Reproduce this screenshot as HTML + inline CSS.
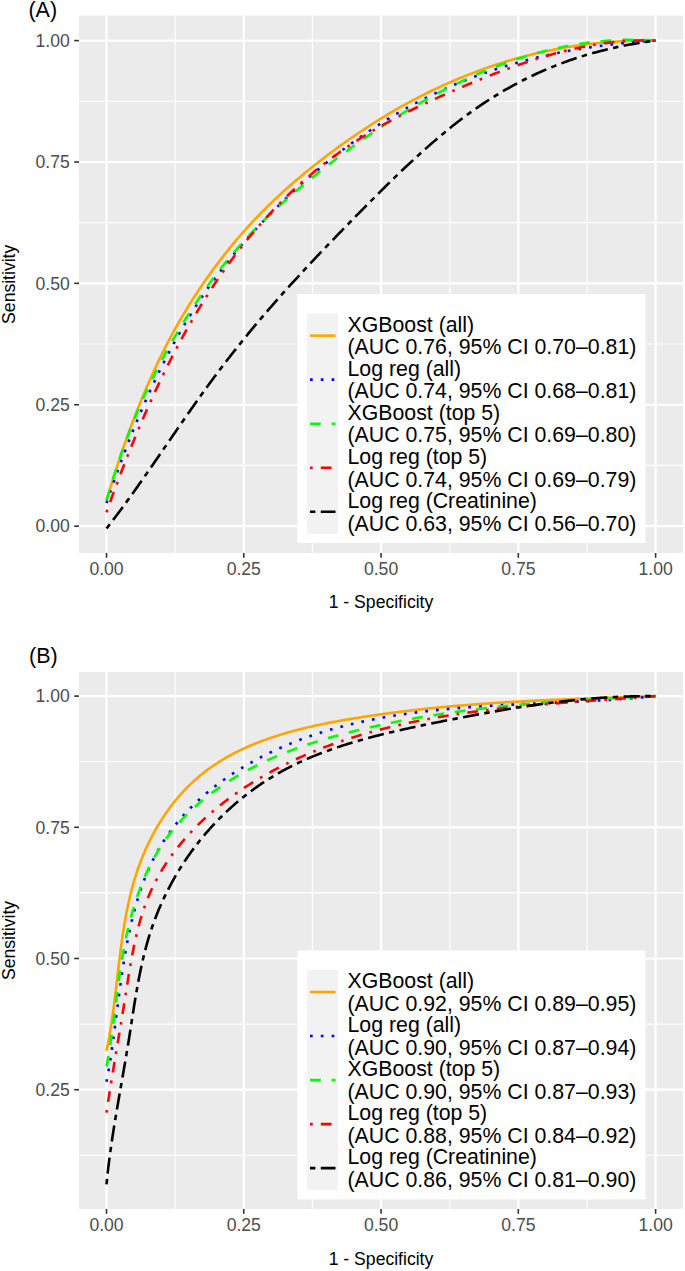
<!DOCTYPE html>
<html><head><meta charset="utf-8"><style>
html,body{margin:0;padding:0;background:#fff;}
svg{display:block;}
text{font-family:"Liberation Sans", sans-serif;}
.ax{font-size:17.6px;fill:#4D4D4D;}
.at{font-size:17.6px;fill:#000;}
.tag{font-size:21.5px;fill:#000;}
.lg{font-size:21.3px;fill:#000;}
</style></head><body>
<svg width="685" height="1271" viewBox="0 0 685 1271">
<rect width="685" height="1271" fill="#fff"/>
<rect x="79" y="15.6" width="604" height="537.40" fill="#EBEBEB"/>
<line x1="175.14" y1="15.6" x2="175.14" y2="553.0" stroke="#fff" stroke-width="1.1"/>
<line x1="312.41" y1="15.6" x2="312.41" y2="553.0" stroke="#fff" stroke-width="1.1"/>
<line x1="449.69" y1="15.6" x2="449.69" y2="553.0" stroke="#fff" stroke-width="1.1"/>
<line x1="586.96" y1="15.6" x2="586.96" y2="553.0" stroke="#fff" stroke-width="1.1"/>
<line x1="79" y1="465.41" x2="683" y2="465.41" stroke="#fff" stroke-width="1.1"/>
<line x1="79" y1="344.04" x2="683" y2="344.04" stroke="#fff" stroke-width="1.1"/>
<line x1="79" y1="222.66" x2="683" y2="222.66" stroke="#fff" stroke-width="1.1"/>
<line x1="79" y1="101.29" x2="683" y2="101.29" stroke="#fff" stroke-width="1.1"/>
<line x1="106.50" y1="15.6" x2="106.50" y2="553.0" stroke="#fff" stroke-width="2.2"/>
<line x1="243.78" y1="15.6" x2="243.78" y2="553.0" stroke="#fff" stroke-width="2.2"/>
<line x1="381.05" y1="15.6" x2="381.05" y2="553.0" stroke="#fff" stroke-width="2.2"/>
<line x1="518.33" y1="15.6" x2="518.33" y2="553.0" stroke="#fff" stroke-width="2.2"/>
<line x1="655.60" y1="15.6" x2="655.60" y2="553.0" stroke="#fff" stroke-width="2.2"/>
<line x1="79" y1="526.10" x2="683" y2="526.10" stroke="#fff" stroke-width="2.2"/>
<line x1="79" y1="404.73" x2="683" y2="404.73" stroke="#fff" stroke-width="2.2"/>
<line x1="79" y1="283.35" x2="683" y2="283.35" stroke="#fff" stroke-width="2.2"/>
<line x1="79" y1="161.98" x2="683" y2="161.98" stroke="#fff" stroke-width="2.2"/>
<line x1="79" y1="40.60" x2="683" y2="40.60" stroke="#fff" stroke-width="2.2"/>
<path d="M106.50,500.32 L107.33,497.55 L108.16,494.80 L108.98,492.07 L109.81,489.35 L110.64,486.66 L111.47,483.99 L112.29,481.34 L113.12,478.71 L113.95,476.10 L114.78,473.51 L115.61,470.94 L116.43,468.38 L117.26,465.85 L118.09,463.33 L118.92,460.84 L119.74,458.36 L120.57,455.90 L121.40,453.46 L122.23,451.04 L123.06,448.64 L123.88,446.25 L124.71,443.89 L125.54,441.54 L126.37,439.21 L127.19,436.89 L128.02,434.60 L128.85,432.32 L129.68,430.06 L130.51,427.81 L131.33,425.59 L132.16,423.38 L132.99,421.18 L133.82,419.01 L134.64,416.85 L135.47,414.70 L136.30,412.58 L137.13,410.47 L137.96,408.37 L138.78,406.29 L139.61,404.23 L140.44,402.18 L141.27,400.15 L142.09,398.13 L142.92,396.13 L143.75,394.14 L144.58,392.17 L145.41,390.21 L146.23,388.27 L147.06,386.35 L147.89,384.43 L148.72,382.54 L149.55,380.65 L150.37,378.78 L151.20,376.93 L152.03,375.09 L152.86,373.26 L153.68,371.44 L154.51,369.64 L155.34,367.86 L156.17,366.08 L157.00,364.33 L157.82,362.58 L158.65,360.84 L159.48,359.12 L160.31,357.42 L161.13,355.72 L161.96,354.04 L162.79,352.37 L163.62,350.71 L164.45,349.06 L165.27,347.43 L166.10,345.81 L166.93,344.20 L167.76,342.60 L168.58,341.02 L169.41,339.44 L170.24,337.88 L171.07,336.33 L171.90,334.78 L172.72,333.25 L173.55,331.74 L174.38,330.23 L175.21,328.73 L176.03,327.24 L176.86,325.77 L177.69,324.30 L178.52,322.84 L179.35,321.40 L180.17,319.96 L181.00,318.54 L181.83,317.12 L182.66,315.71 L183.48,314.32 L184.31,312.93 L185.14,311.55 L185.97,310.18 L186.80,308.82 L187.62,307.47 L188.45,306.13 L189.28,304.79 L190.11,303.47 L190.93,302.15 L191.76,300.84 L192.59,299.54 L193.42,298.25 L194.25,296.96 L195.07,295.69 L195.90,294.42 L196.73,293.16 L197.56,291.90 L198.38,290.66 L199.21,289.42 L200.04,288.18 L200.87,286.96 L201.70,285.74 L202.52,284.53 L203.35,283.32 L204.18,282.13 L205.01,280.93 L205.83,279.75 L206.66,278.57 L207.49,277.40 L208.32,276.23 L209.15,275.07 L209.97,273.91 L210.80,272.76 L211.63,271.62 L212.46,270.49 L213.28,269.35 L214.11,268.23 L214.94,267.11 L215.77,266.00 L216.60,264.89 L217.42,263.79 L218.25,262.69 L219.08,261.60 L219.91,260.51 L220.73,259.43 L221.56,258.36 L222.39,257.29 L223.22,256.23 L224.05,255.17 L224.87,254.12 L225.70,253.07 L226.53,252.03 L227.36,251.00 L228.18,249.97 L229.01,248.94 L229.84,247.92 L230.67,246.91 L231.50,245.90 L232.32,244.89 L233.15,243.89 L233.98,242.90 L234.81,241.91 L235.64,240.93 L236.46,239.95 L237.29,238.97 L238.12,238.01 L238.95,237.04 L239.77,236.08 L240.60,235.13 L241.43,234.18 L242.26,233.23 L243.09,232.29 L243.91,231.36 L244.74,230.42 L245.57,229.50 L246.40,228.58 L247.22,227.66 L248.05,226.75 L248.88,225.84 L249.71,224.93 L250.54,224.03 L251.36,223.14 L252.19,222.25 L253.02,221.36 L253.85,220.48 L254.67,219.60 L255.50,218.73 L256.33,217.86 L257.16,216.99 L257.99,216.13 L258.81,215.28 L259.64,214.42 L260.47,213.57 L261.30,212.73 L262.12,211.89 L262.95,211.05 L263.78,210.22 L264.61,209.39 L265.44,208.56 L266.26,207.74 L267.09,206.92 L267.92,206.11 L268.75,205.30 L269.57,204.49 L270.40,203.69 L271.23,202.89 L273.81,200.42 L276.39,197.98 L278.97,195.58 L281.55,193.21 L284.13,190.87 L286.71,188.56 L289.29,186.27 L291.87,184.02 L294.45,181.79 L297.03,179.59 L299.61,177.41 L302.19,175.25 L304.77,173.12 L307.35,171.01 L309.92,168.92 L312.50,166.85 L315.08,164.80 L317.66,162.76 L320.24,160.75 L322.82,158.75 L325.40,156.77 L327.98,154.81 L330.56,152.87 L333.14,150.95 L335.72,149.04 L338.30,147.16 L340.88,145.29 L343.46,143.44 L346.04,141.61 L348.62,139.79 L351.20,138.00 L353.78,136.22 L356.36,134.46 L358.94,132.72 L361.52,130.99 L364.10,129.29 L366.68,127.60 L369.26,125.93 L371.84,124.27 L374.42,122.64 L377.00,121.02 L379.58,119.42 L382.16,117.83 L384.74,116.27 L387.31,114.72 L389.89,113.19 L392.47,111.68 L395.05,110.18 L397.63,108.70 L400.21,107.24 L402.79,105.79 L405.37,104.37 L407.95,102.96 L410.53,101.56 L413.11,100.19 L415.69,98.83 L418.27,97.48 L420.85,96.16 L423.43,94.85 L426.01,93.56 L428.59,92.28 L431.17,91.02 L433.75,89.78 L436.33,88.55 L438.91,87.34 L441.49,86.15 L444.07,84.98 L446.65,83.82 L449.23,82.67 L451.81,81.55 L454.39,80.44 L456.97,79.34 L459.55,78.26 L462.13,77.20 L464.70,76.16 L467.28,75.13 L469.86,74.11 L472.44,73.12 L475.02,72.14 L477.60,71.17 L480.18,70.22 L482.76,69.29 L485.34,68.37 L487.92,67.47 L490.50,66.58 L493.08,65.71 L495.66,64.85 L498.24,64.01 L500.82,63.19 L503.40,62.38 L505.98,61.59 L508.56,60.81 L511.14,60.05 L513.72,59.30 L516.30,58.57 L518.88,57.85 L521.46,57.15 L524.04,56.47 L526.62,55.80 L529.20,55.14 L531.78,54.50 L534.36,53.87 L536.94,53.26 L539.52,52.67 L542.09,52.09 L544.67,51.52 L547.25,50.97 L549.83,50.43 L552.41,49.91 L554.99,49.40 L557.57,48.91 L560.15,48.43 L562.73,47.97 L565.31,47.52 L567.89,47.08 L570.47,46.66 L573.05,46.26 L575.63,45.87 L578.21,45.49 L580.79,45.13 L583.37,44.78 L585.95,44.44 L588.53,44.12 L591.11,43.82 L593.69,43.52 L596.27,43.24 L598.85,42.98 L601.43,42.73 L604.01,42.49 L606.59,42.27 L609.17,42.06 L611.75,41.86 L614.33,41.68 L616.91,41.51 L619.48,41.36 L622.06,41.22 L624.64,41.09 L627.22,40.98 L629.80,40.88 L632.38,40.79 L634.96,40.72 L637.54,40.65 L640.12,40.61 L642.70,40.57 L645.28,40.55 L647.86,40.54 L650.44,40.55 L653.02,40.57 L655.60,40.60" fill="none" stroke="#FFA500" stroke-width="2.6" stroke-linejoin="round"/>
<path d="M106.50,503.05 L107.33,500.57 L108.16,498.11 L108.98,495.67 L109.81,493.24 L110.64,490.82 L111.47,488.42 L112.29,486.03 L113.12,483.66 L113.95,481.30 L114.78,478.95 L115.61,476.62 L116.43,474.30 L117.26,471.99 L118.09,469.70 L118.92,467.42 L119.74,465.16 L120.57,462.91 L121.40,460.67 L122.23,458.44 L123.06,456.23 L123.88,454.03 L124.71,451.85 L125.54,449.67 L126.37,447.52 L127.19,445.37 L128.02,443.24 L128.85,441.11 L129.68,439.01 L130.51,436.91 L131.33,434.83 L132.16,432.76 L132.99,430.70 L133.82,428.65 L134.64,426.62 L135.47,424.60 L136.30,422.59 L137.13,420.60 L137.96,418.61 L138.78,416.64 L139.61,414.68 L140.44,412.73 L141.27,410.80 L142.09,408.87 L142.92,406.96 L143.75,405.06 L144.58,403.17 L145.41,401.29 L146.23,399.42 L147.06,397.57 L147.89,395.72 L148.72,393.89 L149.55,392.07 L150.37,390.26 L151.20,388.46 L152.03,386.67 L152.86,384.90 L153.68,383.13 L154.51,381.37 L155.34,379.63 L156.17,377.90 L157.00,376.17 L157.82,374.46 L158.65,372.76 L159.48,371.07 L160.31,369.39 L161.13,367.72 L161.96,366.06 L162.79,364.41 L163.62,362.77 L164.45,361.14 L165.27,359.52 L166.10,357.91 L166.93,356.31 L167.76,354.72 L168.58,353.14 L169.41,351.57 L170.24,350.01 L171.07,348.46 L171.90,346.92 L172.72,345.38 L173.55,343.86 L174.38,342.35 L175.21,340.85 L176.03,339.35 L176.86,337.87 L177.69,336.39 L178.52,334.92 L179.35,333.46 L180.17,332.02 L181.00,330.57 L181.83,329.14 L182.66,327.72 L183.48,326.31 L184.31,324.90 L185.14,323.50 L185.97,322.12 L186.80,320.74 L187.62,319.36 L188.45,318.00 L189.28,316.65 L190.11,315.30 L190.93,313.96 L191.76,312.63 L192.59,311.31 L193.42,309.99 L194.25,308.69 L195.07,307.39 L195.90,306.10 L196.73,304.81 L197.56,303.54 L198.38,302.27 L199.21,301.01 L200.04,299.75 L200.87,298.51 L201.70,297.27 L202.52,296.04 L203.35,294.81 L204.18,293.60 L205.01,292.39 L205.83,291.18 L206.66,289.99 L207.49,288.80 L208.32,287.62 L209.15,286.44 L209.97,285.27 L210.80,284.11 L211.63,282.95 L212.46,281.81 L213.28,280.66 L214.11,279.53 L214.94,278.40 L215.77,277.27 L216.60,276.16 L217.42,275.04 L218.25,273.94 L219.08,272.84 L219.91,271.75 L220.73,270.66 L221.56,269.58 L222.39,268.50 L223.22,267.43 L224.05,266.37 L224.87,265.31 L225.70,264.25 L226.53,263.21 L227.36,262.16 L228.18,261.13 L229.01,260.10 L229.84,259.07 L230.67,258.05 L231.50,257.03 L232.32,256.02 L233.15,255.01 L233.98,254.01 L234.81,253.01 L235.64,252.02 L236.46,251.03 L237.29,250.05 L238.12,249.07 L238.95,248.10 L239.77,247.13 L240.60,246.17 L241.43,245.21 L242.26,244.25 L243.09,243.30 L243.91,242.35 L244.74,241.41 L245.57,240.47 L246.40,239.53 L247.22,238.60 L248.05,237.67 L248.88,236.75 L249.71,235.83 L250.54,234.91 L251.36,234.00 L252.19,233.09 L253.02,232.18 L253.85,231.28 L254.67,230.38 L255.50,229.49 L256.33,228.59 L257.16,227.70 L257.99,226.82 L258.81,225.93 L259.64,225.05 L260.47,224.17 L261.30,223.30 L262.12,222.43 L262.95,221.56 L263.78,220.69 L264.61,219.83 L265.44,218.97 L266.26,218.11 L267.09,217.25 L267.92,216.40 L268.75,215.55 L269.57,214.70 L270.40,213.86 L271.23,213.01 L273.81,210.41 L276.39,207.82 L278.97,205.27 L281.55,202.74 L284.13,200.23 L286.71,197.75 L289.29,195.29 L291.87,192.86 L294.45,190.46 L297.03,188.08 L299.61,185.72 L302.19,183.39 L304.77,181.08 L307.35,178.80 L309.92,176.54 L312.50,174.31 L315.08,172.10 L317.66,169.91 L320.24,167.75 L322.82,165.61 L325.40,163.49 L327.98,161.40 L330.56,159.33 L333.14,157.28 L335.72,155.26 L338.30,153.26 L340.88,151.28 L343.46,149.32 L346.04,147.39 L348.62,145.48 L351.20,143.59 L353.78,141.72 L356.36,139.88 L358.94,138.06 L361.52,136.25 L364.10,134.47 L366.68,132.71 L369.26,130.98 L371.84,129.26 L374.42,127.56 L377.00,125.89 L379.58,124.24 L382.16,122.60 L384.74,120.99 L387.31,119.40 L389.89,117.82 L392.47,116.27 L395.05,114.74 L397.63,113.23 L400.21,111.74 L402.79,110.26 L405.37,108.81 L407.95,107.38 L410.53,105.96 L413.11,104.56 L415.69,103.19 L418.27,101.83 L420.85,100.49 L423.43,99.17 L426.01,97.87 L428.59,96.58 L431.17,95.32 L433.75,94.07 L436.33,92.84 L438.91,91.63 L441.49,90.43 L444.07,89.26 L446.65,88.10 L449.23,86.96 L451.81,85.83 L454.39,84.73 L456.97,83.64 L459.55,82.56 L462.13,81.50 L464.70,80.46 L467.28,79.44 L469.86,78.43 L472.44,77.44 L475.02,76.47 L477.60,75.51 L480.18,74.56 L482.76,73.64 L485.34,72.72 L487.92,71.83 L490.50,70.94 L493.08,70.08 L495.66,69.23 L498.24,68.39 L500.82,67.57 L503.40,66.76 L505.98,65.97 L508.56,65.19 L511.14,64.43 L513.72,63.68 L516.30,62.94 L518.88,62.22 L521.46,61.51 L524.04,60.82 L526.62,60.14 L529.20,59.47 L531.78,58.82 L534.36,58.18 L536.94,57.55 L539.52,56.94 L542.09,56.33 L544.67,55.74 L547.25,55.17 L549.83,54.60 L552.41,54.05 L554.99,53.51 L557.57,52.98 L560.15,52.47 L562.73,51.96 L565.31,51.47 L567.89,50.99 L570.47,50.52 L573.05,50.06 L575.63,49.61 L578.21,49.18 L580.79,48.75 L583.37,48.34 L585.95,47.93 L588.53,47.54 L591.11,47.16 L593.69,46.78 L596.27,46.42 L598.85,46.07 L601.43,45.73 L604.01,45.39 L606.59,45.07 L609.17,44.75 L611.75,44.45 L614.33,44.15 L616.91,43.87 L619.48,43.59 L622.06,43.32 L624.64,43.06 L627.22,42.81 L629.80,42.57 L632.38,42.34 L634.96,42.11 L637.54,41.89 L640.12,41.68 L642.70,41.48 L645.28,41.28 L647.86,41.10 L650.44,40.92 L653.02,40.75 L655.60,40.58" fill="none" stroke="#0000FF" stroke-width="2.6" stroke-linejoin="round" stroke-dasharray="2.70 8.10"/>
<path d="M106.50,500.35 L107.33,497.53 L108.16,494.74 L108.98,491.97 L109.81,489.23 L110.64,486.52 L111.47,483.84 L112.29,481.18 L113.12,478.55 L113.95,475.94 L114.78,473.36 L115.61,470.80 L116.43,468.27 L117.26,465.76 L118.09,463.28 L118.92,460.82 L119.74,458.39 L120.57,455.98 L121.40,453.59 L122.23,451.23 L123.06,448.89 L123.88,446.57 L124.71,444.28 L125.54,442.00 L126.37,439.75 L127.19,437.52 L128.02,435.31 L128.85,433.12 L129.68,430.96 L130.51,428.81 L131.33,426.69 L132.16,424.58 L132.99,422.49 L133.82,420.43 L134.64,418.38 L135.47,416.35 L136.30,414.34 L137.13,412.35 L137.96,410.38 L138.78,408.42 L139.61,406.48 L140.44,404.56 L141.27,402.66 L142.09,400.77 L142.92,398.90 L143.75,397.05 L144.58,395.21 L145.41,393.39 L146.23,391.58 L147.06,389.79 L147.89,388.02 L148.72,386.25 L149.55,384.51 L150.37,382.78 L151.20,381.06 L152.03,379.35 L152.86,377.66 L153.68,375.98 L154.51,374.32 L155.34,372.66 L156.17,371.02 L157.00,369.39 L157.82,367.78 L158.65,366.17 L159.48,364.58 L160.31,363.00 L161.13,361.42 L161.96,359.86 L162.79,358.31 L163.62,356.77 L164.45,355.24 L165.27,353.72 L166.10,352.20 L166.93,350.70 L167.76,349.21 L168.58,347.72 L169.41,346.24 L170.24,344.77 L171.07,343.31 L171.90,341.85 L172.72,340.41 L173.55,338.97 L174.38,337.54 L175.21,336.11 L176.03,334.70 L176.86,333.29 L177.69,331.89 L178.52,330.49 L179.35,329.11 L180.17,327.73 L181.00,326.36 L181.83,325.00 L182.66,323.64 L183.48,322.29 L184.31,320.95 L185.14,319.62 L185.97,318.29 L186.80,316.97 L187.62,315.66 L188.45,314.35 L189.28,313.06 L190.11,311.77 L190.93,310.48 L191.76,309.20 L192.59,307.93 L193.42,306.67 L194.25,305.41 L195.07,304.17 L195.90,302.92 L196.73,301.69 L197.56,300.46 L198.38,299.24 L199.21,298.02 L200.04,296.81 L200.87,295.61 L201.70,294.41 L202.52,293.22 L203.35,292.04 L204.18,290.86 L205.01,289.69 L205.83,288.53 L206.66,287.37 L207.49,286.22 L208.32,285.07 L209.15,283.93 L209.97,282.80 L210.80,281.67 L211.63,280.55 L212.46,279.44 L213.28,278.33 L214.11,277.22 L214.94,276.13 L215.77,275.03 L216.60,273.95 L217.42,272.87 L218.25,271.80 L219.08,270.73 L219.91,269.66 L220.73,268.61 L221.56,267.56 L222.39,266.51 L223.22,265.47 L224.05,264.44 L224.87,263.41 L225.70,262.38 L226.53,261.36 L227.36,260.35 L228.18,259.34 L229.01,258.34 L229.84,257.34 L230.67,256.35 L231.50,255.36 L232.32,254.38 L233.15,253.40 L233.98,252.43 L234.81,251.47 L235.64,250.50 L236.46,249.55 L237.29,248.59 L238.12,247.65 L238.95,246.70 L239.77,245.77 L240.60,244.83 L241.43,243.91 L242.26,242.98 L243.09,242.06 L243.91,241.15 L244.74,240.24 L245.57,239.33 L246.40,238.43 L247.22,237.53 L248.05,236.64 L248.88,235.75 L249.71,234.87 L250.54,233.99 L251.36,233.12 L252.19,232.25 L253.02,231.38 L253.85,230.52 L254.67,229.66 L255.50,228.80 L256.33,227.95 L257.16,227.11 L257.99,226.26 L258.81,225.42 L259.64,224.59 L260.47,223.76 L261.30,222.93 L262.12,222.11 L262.95,221.29 L263.78,220.47 L264.61,219.66 L265.44,218.85 L266.26,218.04 L267.09,217.24 L267.92,216.44 L268.75,215.65 L269.57,214.86 L270.40,214.07 L271.23,213.28 L273.81,210.86 L276.39,208.46 L278.97,206.09 L281.55,203.76 L284.13,201.45 L286.71,199.16 L289.29,196.90 L291.87,194.67 L294.45,192.45 L297.03,190.26 L299.61,188.09 L302.19,185.94 L304.77,183.80 L307.35,181.69 L309.92,179.58 L312.50,177.50 L315.08,175.42 L317.66,173.36 L320.24,171.32 L322.82,169.28 L325.40,167.26 L327.98,165.26 L330.56,163.26 L333.14,161.28 L335.72,159.32 L338.30,157.37 L340.88,155.43 L343.46,153.51 L346.04,151.60 L348.62,149.70 L351.20,147.82 L353.78,145.95 L356.36,144.10 L358.94,142.26 L361.52,140.44 L364.10,138.63 L366.68,136.83 L369.26,135.05 L371.84,133.29 L374.42,131.54 L377.00,129.80 L379.58,128.08 L382.16,126.37 L384.74,124.68 L387.31,123.00 L389.89,121.34 L392.47,119.69 L395.05,118.06 L397.63,116.44 L400.21,114.84 L402.79,113.25 L405.37,111.68 L407.95,110.13 L410.53,108.58 L413.11,107.06 L415.69,105.55 L418.27,104.06 L420.85,102.58 L423.43,101.11 L426.01,99.67 L428.59,98.24 L431.17,96.82 L433.75,95.42 L436.33,94.04 L438.91,92.67 L441.49,91.32 L444.07,89.98 L446.65,88.66 L449.23,87.36 L451.81,86.07 L454.39,84.80 L456.97,83.55 L459.55,82.31 L462.13,81.09 L464.70,79.89 L467.28,78.70 L469.86,77.53 L472.44,76.37 L475.02,75.24 L477.60,74.12 L480.18,73.01 L482.76,71.92 L485.34,70.86 L487.92,69.80 L490.50,68.77 L493.08,67.75 L495.66,66.75 L498.24,65.76 L500.82,64.80 L503.40,63.85 L505.98,62.91 L508.56,62.00 L511.14,61.10 L513.72,60.22 L516.30,59.36 L518.88,58.52 L521.46,57.69 L524.04,56.89 L526.62,56.10 L529.20,55.32 L531.78,54.57 L534.36,53.83 L536.94,53.11 L539.52,52.41 L542.09,51.73 L544.67,51.07 L547.25,50.42 L549.83,49.80 L552.41,49.19 L554.99,48.60 L557.57,48.03 L560.15,47.47 L562.73,46.94 L565.31,46.43 L567.89,45.93 L570.47,45.45 L573.05,44.99 L575.63,44.55 L578.21,44.13 L580.79,43.73 L583.37,43.35 L585.95,42.98 L588.53,42.64 L591.11,42.31 L593.69,42.01 L596.27,41.72 L598.85,41.46 L601.43,41.21 L604.01,40.98 L606.59,40.77 L609.17,40.58 L611.75,40.41 L614.33,40.27 L616.91,40.14 L619.48,40.03 L622.06,39.94 L624.64,39.87 L627.22,39.82 L629.80,39.79 L632.38,39.78 L634.96,39.79 L637.54,39.82 L640.12,39.87 L642.70,39.95 L645.28,40.04 L647.86,40.15 L650.44,40.28 L653.02,40.44 L655.60,40.61" fill="none" stroke="#00FF00" stroke-width="2.6" stroke-linejoin="round" stroke-dasharray="10.80 10.80"/>
<path d="M106.50,512.35 L107.33,510.00 L108.16,507.67 L108.98,505.35 L109.81,503.04 L110.64,500.73 L111.47,498.44 L112.29,496.16 L113.12,493.89 L113.95,491.63 L114.78,489.38 L115.61,487.14 L116.43,484.91 L117.26,482.69 L118.09,480.49 L118.92,478.29 L119.74,476.10 L120.57,473.92 L121.40,471.75 L122.23,469.59 L123.06,467.45 L123.88,465.31 L124.71,463.18 L125.54,461.06 L126.37,458.95 L127.19,456.86 L128.02,454.77 L128.85,452.69 L129.68,450.62 L130.51,448.56 L131.33,446.51 L132.16,444.47 L132.99,442.44 L133.82,440.42 L134.64,438.41 L135.47,436.41 L136.30,434.41 L137.13,432.43 L137.96,430.46 L138.78,428.49 L139.61,426.54 L140.44,424.59 L141.27,422.66 L142.09,420.73 L142.92,418.81 L143.75,416.90 L144.58,415.01 L145.41,413.12 L146.23,411.23 L147.06,409.36 L147.89,407.50 L148.72,405.65 L149.55,403.80 L150.37,401.96 L151.20,400.14 L152.03,398.32 L152.86,396.51 L153.68,394.71 L154.51,392.92 L155.34,391.13 L156.17,389.36 L157.00,387.59 L157.82,385.84 L158.65,384.09 L159.48,382.35 L160.31,380.62 L161.13,378.89 L161.96,377.18 L162.79,375.47 L163.62,373.78 L164.45,372.09 L165.27,370.41 L166.10,368.73 L166.93,367.07 L167.76,365.41 L168.58,363.77 L169.41,362.13 L170.24,360.49 L171.07,358.87 L171.90,357.25 L172.72,355.65 L173.55,354.05 L174.38,352.46 L175.21,350.87 L176.03,349.30 L176.86,347.73 L177.69,346.17 L178.52,344.62 L179.35,343.07 L180.17,341.54 L181.00,340.01 L181.83,338.49 L182.66,336.97 L183.48,335.47 L184.31,333.97 L185.14,332.48 L185.97,331.00 L186.80,329.52 L187.62,328.05 L188.45,326.59 L189.28,325.14 L190.11,323.69 L190.93,322.25 L191.76,320.82 L192.59,319.40 L193.42,317.98 L194.25,316.57 L195.07,315.17 L195.90,313.77 L196.73,312.38 L197.56,311.00 L198.38,309.62 L199.21,308.26 L200.04,306.90 L200.87,305.54 L201.70,304.20 L202.52,302.86 L203.35,301.52 L204.18,300.20 L205.01,298.88 L205.83,297.56 L206.66,296.26 L207.49,294.96 L208.32,293.67 L209.15,292.38 L209.97,291.10 L210.80,289.83 L211.63,288.56 L212.46,287.30 L213.28,286.04 L214.11,284.80 L214.94,283.56 L215.77,282.32 L216.60,281.09 L217.42,279.87 L218.25,278.65 L219.08,277.44 L219.91,276.24 L220.73,275.04 L221.56,273.85 L222.39,272.67 L223.22,271.49 L224.05,270.31 L224.87,269.15 L225.70,267.98 L226.53,266.83 L227.36,265.68 L228.18,264.54 L229.01,263.40 L229.84,262.26 L230.67,261.14 L231.50,260.02 L232.32,258.90 L233.15,257.79 L233.98,256.69 L234.81,255.59 L235.64,254.50 L236.46,253.41 L237.29,252.33 L238.12,251.25 L238.95,250.18 L239.77,249.11 L240.60,248.05 L241.43,247.00 L242.26,245.95 L243.09,244.90 L243.91,243.86 L244.74,242.83 L245.57,241.80 L246.40,240.78 L247.22,239.76 L248.05,238.74 L248.88,237.74 L249.71,236.73 L250.54,235.73 L251.36,234.74 L252.19,233.75 L253.02,232.76 L253.85,231.79 L254.67,230.81 L255.50,229.84 L256.33,228.88 L257.16,227.91 L257.99,226.96 L258.81,226.01 L259.64,225.06 L260.47,224.12 L261.30,223.18 L262.12,222.25 L262.95,221.32 L263.78,220.39 L264.61,219.47 L265.44,218.56 L266.26,217.65 L267.09,216.74 L267.92,215.84 L268.75,214.94 L269.57,214.05 L270.40,213.16 L271.23,212.27 L273.81,209.54 L276.39,206.85 L278.97,204.20 L281.55,201.59 L284.13,199.02 L286.71,196.49 L289.29,194.00 L291.87,191.54 L294.45,189.12 L297.03,186.74 L299.61,184.40 L302.19,182.09 L304.77,179.82 L307.35,177.58 L309.92,175.37 L312.50,173.20 L315.08,171.06 L317.66,168.96 L320.24,166.89 L322.82,164.84 L325.40,162.83 L327.98,160.85 L330.56,158.90 L333.14,156.98 L335.72,155.09 L338.30,153.23 L340.88,151.39 L343.46,149.58 L346.04,147.80 L348.62,146.05 L351.20,144.32 L353.78,142.62 L356.36,140.94 L358.94,139.28 L361.52,137.65 L364.10,136.05 L366.68,134.46 L369.26,132.90 L371.84,131.36 L374.42,129.84 L377.00,128.34 L379.58,126.86 L382.16,125.40 L384.74,123.96 L387.31,122.54 L389.89,121.13 L392.47,119.75 L395.05,118.38 L397.63,117.02 L400.21,115.69 L402.79,114.36 L405.37,113.06 L407.95,111.76 L410.53,110.48 L413.11,109.22 L415.69,107.97 L418.27,106.72 L420.85,105.50 L423.43,104.28 L426.01,103.07 L428.59,101.87 L431.17,100.69 L433.75,99.51 L436.33,98.34 L438.91,97.18 L441.49,96.02 L444.07,94.87 L446.65,93.73 L449.23,92.60 L451.81,91.47 L454.39,90.35 L456.97,89.23 L459.55,88.12 L462.13,87.01 L464.70,85.91 L467.28,84.82 L469.86,83.73 L472.44,82.66 L475.02,81.59 L477.60,80.52 L480.18,79.47 L482.76,78.42 L485.34,77.39 L487.92,76.36 L490.50,75.34 L493.08,74.33 L495.66,73.33 L498.24,72.34 L500.82,71.36 L503.40,70.39 L505.98,69.43 L508.56,68.48 L511.14,67.54 L513.72,66.61 L516.30,65.70 L518.88,64.80 L521.46,63.91 L524.04,63.03 L526.62,62.16 L529.20,61.31 L531.78,60.47 L534.36,59.64 L536.94,58.83 L539.52,58.03 L542.09,57.25 L544.67,56.48 L547.25,55.72 L549.83,54.98 L552.41,54.26 L554.99,53.55 L557.57,52.85 L560.15,52.18 L562.73,51.51 L565.31,50.87 L567.89,50.24 L570.47,49.63 L573.05,49.03 L575.63,48.45 L578.21,47.90 L580.79,47.35 L583.37,46.83 L585.95,46.32 L588.53,45.84 L591.11,45.37 L593.69,44.92 L596.27,44.49 L598.85,44.09 L601.43,43.70 L604.01,43.33 L606.59,42.98 L609.17,42.65 L611.75,42.35 L614.33,42.06 L616.91,41.80 L619.48,41.56 L622.06,41.34 L624.64,41.14 L627.22,40.96 L629.80,40.81 L632.38,40.68 L634.96,40.58 L637.54,40.49 L640.12,40.43 L642.70,40.40 L645.28,40.39 L647.86,40.40 L650.44,40.44 L653.02,40.51 L655.60,40.59" fill="none" stroke="#FF0000" stroke-width="2.6" stroke-linejoin="round" stroke-dasharray="2.70 8.10 10.80 8.10"/>
<path d="M106.50,528.56 L107.33,527.50 L108.16,526.43 L108.98,525.36 L109.81,524.29 L110.64,523.22 L111.47,522.14 L112.29,521.06 L113.12,519.97 L113.95,518.88 L114.78,517.79 L115.61,516.69 L116.43,515.59 L117.26,514.48 L118.09,513.38 L118.92,512.27 L119.74,511.15 L120.57,510.04 L121.40,508.92 L122.23,507.79 L123.06,506.67 L123.88,505.54 L124.71,504.41 L125.54,503.27 L126.37,502.14 L127.19,501.00 L128.02,499.86 L128.85,498.71 L129.68,497.56 L130.51,496.41 L131.33,495.26 L132.16,494.11 L132.99,492.95 L133.82,491.79 L134.64,490.63 L135.47,489.47 L136.30,488.30 L137.13,487.13 L137.96,485.96 L138.78,484.79 L139.61,483.62 L140.44,482.44 L141.27,481.27 L142.09,480.09 L142.92,478.91 L143.75,477.73 L144.58,476.54 L145.41,475.36 L146.23,474.17 L147.06,472.98 L147.89,471.79 L148.72,470.60 L149.55,469.41 L150.37,468.22 L151.20,467.03 L152.03,465.83 L152.86,464.64 L153.68,463.44 L154.51,462.24 L155.34,461.04 L156.17,459.85 L157.00,458.65 L157.82,457.45 L158.65,456.24 L159.48,455.04 L160.31,453.84 L161.13,452.64 L161.96,451.44 L162.79,450.23 L163.62,449.03 L164.45,447.83 L165.27,446.62 L166.10,445.42 L166.93,444.22 L167.76,443.01 L168.58,441.81 L169.41,440.60 L170.24,439.40 L171.07,438.20 L171.90,437.00 L172.72,435.79 L173.55,434.59 L174.38,433.39 L175.21,432.19 L176.03,430.99 L176.86,429.79 L177.69,428.59 L178.52,427.39 L179.35,426.19 L180.17,425.00 L181.00,423.80 L181.83,422.60 L182.66,421.41 L183.48,420.22 L184.31,419.03 L185.14,417.84 L185.97,416.65 L186.80,415.46 L187.62,414.27 L188.45,413.09 L189.28,411.90 L190.11,410.72 L190.93,409.54 L191.76,408.36 L192.59,407.18 L193.42,406.01 L194.25,404.83 L195.07,403.66 L195.90,402.49 L196.73,401.32 L197.56,400.15 L198.38,398.99 L199.21,397.83 L200.04,396.67 L200.87,395.51 L201.70,394.35 L202.52,393.20 L203.35,392.05 L204.18,390.90 L205.01,389.76 L205.83,388.61 L206.66,387.47 L207.49,386.33 L208.32,385.20 L209.15,384.07 L209.97,382.94 L210.80,381.81 L211.63,380.69 L212.46,379.57 L213.28,378.45 L214.11,377.33 L214.94,376.22 L215.77,375.11 L216.60,374.00 L217.42,372.90 L218.25,371.80 L219.08,370.70 L219.91,369.61 L220.73,368.52 L221.56,367.43 L222.39,366.34 L223.22,365.26 L224.05,364.17 L224.87,363.10 L225.70,362.02 L226.53,360.95 L227.36,359.88 L228.18,358.81 L229.01,357.74 L229.84,356.68 L230.67,355.62 L231.50,354.56 L232.32,353.51 L233.15,352.46 L233.98,351.41 L234.81,350.36 L235.64,349.32 L236.46,348.27 L237.29,347.23 L238.12,346.20 L238.95,345.16 L239.77,344.13 L240.60,343.10 L241.43,342.07 L242.26,341.05 L243.09,340.03 L243.91,339.00 L244.74,337.99 L245.57,336.97 L246.40,335.96 L247.22,334.95 L248.05,333.94 L248.88,332.93 L249.71,331.93 L250.54,330.93 L251.36,329.93 L252.19,328.93 L253.02,327.93 L253.85,326.94 L254.67,325.95 L255.50,324.96 L256.33,323.97 L257.16,322.99 L257.99,322.01 L258.81,321.03 L259.64,320.05 L260.47,319.07 L261.30,318.10 L262.12,317.12 L262.95,316.15 L263.78,315.19 L264.61,314.22 L265.44,313.26 L266.26,312.29 L267.09,311.33 L267.92,310.37 L268.75,309.42 L269.57,308.46 L270.40,307.51 L271.23,306.56 L273.81,303.61 L276.39,300.67 L278.97,297.75 L281.55,294.85 L284.13,291.97 L286.71,289.10 L289.29,286.24 L291.87,283.40 L294.45,280.57 L297.03,277.76 L299.61,274.96 L302.19,272.17 L304.77,269.40 L307.35,266.63 L309.92,263.88 L312.50,261.14 L315.08,258.41 L317.66,255.68 L320.24,252.97 L322.82,250.27 L325.40,247.57 L327.98,244.88 L330.56,242.20 L333.14,239.53 L335.72,236.86 L338.30,234.20 L340.88,231.55 L343.46,228.90 L346.04,226.25 L348.62,223.61 L351.20,220.97 L353.78,218.34 L356.36,215.71 L358.94,213.09 L361.52,210.47 L364.10,207.85 L366.68,205.25 L369.26,202.65 L371.84,200.05 L374.42,197.47 L377.00,194.89 L379.58,192.33 L382.16,189.77 L384.74,187.23 L387.31,184.69 L389.89,182.17 L392.47,179.66 L395.05,177.16 L397.63,174.67 L400.21,172.20 L402.79,169.75 L405.37,167.31 L407.95,164.88 L410.53,162.47 L413.11,160.08 L415.69,157.70 L418.27,155.35 L420.85,153.01 L423.43,150.69 L426.01,148.39 L428.59,146.11 L431.17,143.85 L433.75,141.61 L436.33,139.40 L438.91,137.20 L441.49,135.03 L444.07,132.89 L446.65,130.76 L449.23,128.67 L451.81,126.60 L454.39,124.55 L456.97,122.53 L459.55,120.54 L462.13,118.57 L464.70,116.63 L467.28,114.73 L469.86,112.85 L472.44,111.00 L475.02,109.18 L477.60,107.38 L480.18,105.62 L482.76,103.88 L485.34,102.18 L487.92,100.50 L490.50,98.84 L493.08,97.22 L495.66,95.62 L498.24,94.05 L500.82,92.50 L503.40,90.98 L505.98,89.49 L508.56,88.02 L511.14,86.58 L513.72,85.17 L516.30,83.78 L518.88,82.41 L521.46,81.08 L524.04,79.76 L526.62,78.47 L529.20,77.20 L531.78,75.96 L534.36,74.75 L536.94,73.55 L539.52,72.38 L542.09,71.23 L544.67,70.11 L547.25,69.01 L549.83,67.93 L552.41,66.87 L554.99,65.84 L557.57,64.83 L560.15,63.84 L562.73,62.87 L565.31,61.92 L567.89,61.00 L570.47,60.09 L573.05,59.21 L575.63,58.34 L578.21,57.50 L580.79,56.68 L583.37,55.87 L585.95,55.09 L588.53,54.32 L591.11,53.58 L593.69,52.85 L596.27,52.15 L598.85,51.46 L601.43,50.79 L604.01,50.14 L606.59,49.50 L609.17,48.89 L611.75,48.29 L614.33,47.71 L616.91,47.14 L619.48,46.60 L622.06,46.07 L624.64,45.55 L627.22,45.05 L629.80,44.57 L632.38,44.11 L634.96,43.66 L637.54,43.22 L640.12,42.81 L642.70,42.40 L645.28,42.01 L647.86,41.64 L650.44,41.28 L653.02,40.93 L655.60,40.60" fill="none" stroke="#000000" stroke-width="2.6" stroke-linejoin="round" stroke-dasharray="5.40 5.40 16.20 5.40"/>
<line x1="74.2" y1="526.10" x2="79" y2="526.10" stroke="#333" stroke-width="1.6"/>
<text x="69.8" y="532.40" text-anchor="end" class="ax">0.00</text>
<line x1="74.2" y1="404.73" x2="79" y2="404.73" stroke="#333" stroke-width="1.6"/>
<text x="69.8" y="411.03" text-anchor="end" class="ax">0.25</text>
<line x1="74.2" y1="283.35" x2="79" y2="283.35" stroke="#333" stroke-width="1.6"/>
<text x="69.8" y="289.65" text-anchor="end" class="ax">0.50</text>
<line x1="74.2" y1="161.98" x2="79" y2="161.98" stroke="#333" stroke-width="1.6"/>
<text x="69.8" y="168.28" text-anchor="end" class="ax">0.75</text>
<line x1="74.2" y1="40.60" x2="79" y2="40.60" stroke="#333" stroke-width="1.6"/>
<text x="69.8" y="46.90" text-anchor="end" class="ax">1.00</text>
<line x1="106.50" y1="553.0" x2="106.50" y2="557.80" stroke="#333" stroke-width="1.6"/>
<text x="106.50" y="574.60" text-anchor="middle" class="ax">0.00</text>
<line x1="243.78" y1="553.0" x2="243.78" y2="557.80" stroke="#333" stroke-width="1.6"/>
<text x="243.78" y="574.60" text-anchor="middle" class="ax">0.25</text>
<line x1="381.05" y1="553.0" x2="381.05" y2="557.80" stroke="#333" stroke-width="1.6"/>
<text x="381.05" y="574.60" text-anchor="middle" class="ax">0.50</text>
<line x1="518.33" y1="553.0" x2="518.33" y2="557.80" stroke="#333" stroke-width="1.6"/>
<text x="518.33" y="574.60" text-anchor="middle" class="ax">0.75</text>
<line x1="655.60" y1="553.0" x2="655.60" y2="557.80" stroke="#333" stroke-width="1.6"/>
<text x="655.60" y="574.60" text-anchor="middle" class="ax">1.00</text>
<text x="381" y="608.40" text-anchor="middle" class="at">1 - Specificity</text>
<text transform="translate(15.4 284.30) rotate(-90)" text-anchor="middle" class="at">Sensitivity</text>
<text x="28.4" y="16.90" class="tag">(A)</text>
<rect x="297.4" y="294.00" width="348.2" height="249" fill="#fff"/>
<rect x="307.2" y="313.60" width="30.8" height="220.2" fill="#F2F2F2"/>
<path d="M310,335.60 L335.5,335.60" fill="none" stroke="#FFA500" stroke-width="2.6" stroke-linejoin="round"/>
<text x="347.5" y="331.70" class="lg">XGBoost (all)</text>
<text x="347.5" y="354.40" class="lg">(AUC 0.76, 95% CI 0.70–0.81)</text>
<path d="M310,379.64 L335.5,379.64" fill="none" stroke="#0000FF" stroke-width="2.6" stroke-linejoin="round" stroke-dasharray="2.70 8.10"/>
<text x="347.5" y="375.74" class="lg">Log reg (all)</text>
<text x="347.5" y="398.44" class="lg">(AUC 0.74, 95% CI 0.68–0.81)</text>
<path d="M310,423.68 L335.5,423.68" fill="none" stroke="#00FF00" stroke-width="2.6" stroke-linejoin="round" stroke-dasharray="10.80 10.80"/>
<text x="347.5" y="419.78" class="lg">XGBoost (top 5)</text>
<text x="347.5" y="442.48" class="lg">(AUC 0.75, 95% CI 0.69–0.80)</text>
<path d="M310,467.72 L335.5,467.72" fill="none" stroke="#FF0000" stroke-width="2.6" stroke-linejoin="round" stroke-dasharray="2.70 8.10 10.80 8.10"/>
<text x="347.5" y="463.82" class="lg">Log reg (top 5)</text>
<text x="347.5" y="486.52" class="lg">(AUC 0.74, 95% CI 0.69–0.79)</text>
<path d="M310,511.76 L335.5,511.76" fill="none" stroke="#000000" stroke-width="2.6" stroke-linejoin="round" stroke-dasharray="5.40 5.40 16.20 5.40"/>
<text x="347.5" y="507.86" class="lg">Log reg (Creatinine)</text>
<text x="347.5" y="530.56" class="lg">(AUC 0.63, 95% CI 0.56–0.70)</text>
<rect x="79" y="672.0" width="604" height="537.00" fill="#EBEBEB"/>
<line x1="175.14" y1="672.0" x2="175.14" y2="1209.0" stroke="#fff" stroke-width="1.1"/>
<line x1="312.41" y1="672.0" x2="312.41" y2="1209.0" stroke="#fff" stroke-width="1.1"/>
<line x1="449.69" y1="672.0" x2="449.69" y2="1209.0" stroke="#fff" stroke-width="1.1"/>
<line x1="586.96" y1="672.0" x2="586.96" y2="1209.0" stroke="#fff" stroke-width="1.1"/>
<line x1="79" y1="1155.30" x2="683" y2="1155.30" stroke="#fff" stroke-width="1.1"/>
<line x1="79" y1="1024.10" x2="683" y2="1024.10" stroke="#fff" stroke-width="1.1"/>
<line x1="79" y1="892.90" x2="683" y2="892.90" stroke="#fff" stroke-width="1.1"/>
<line x1="79" y1="761.70" x2="683" y2="761.70" stroke="#fff" stroke-width="1.1"/>
<line x1="106.50" y1="672.0" x2="106.50" y2="1209.0" stroke="#fff" stroke-width="2.2"/>
<line x1="243.78" y1="672.0" x2="243.78" y2="1209.0" stroke="#fff" stroke-width="2.2"/>
<line x1="381.05" y1="672.0" x2="381.05" y2="1209.0" stroke="#fff" stroke-width="2.2"/>
<line x1="518.33" y1="672.0" x2="518.33" y2="1209.0" stroke="#fff" stroke-width="2.2"/>
<line x1="655.60" y1="672.0" x2="655.60" y2="1209.0" stroke="#fff" stroke-width="2.2"/>
<line x1="79" y1="1089.70" x2="683" y2="1089.70" stroke="#fff" stroke-width="2.2"/>
<line x1="79" y1="958.50" x2="683" y2="958.50" stroke="#fff" stroke-width="2.2"/>
<line x1="79" y1="827.30" x2="683" y2="827.30" stroke="#fff" stroke-width="2.2"/>
<line x1="79" y1="696.10" x2="683" y2="696.10" stroke="#fff" stroke-width="2.2"/>
<path d="M106.50,1050.65 L106.76,1049.44 L107.02,1048.23 L107.27,1047.01 L107.52,1045.79 L107.77,1044.57 L108.01,1043.35 L108.25,1042.13 L108.48,1040.90 L108.71,1039.67 L108.94,1038.44 L109.17,1037.21 L109.39,1035.98 L109.61,1034.74 L109.82,1033.50 L110.03,1032.26 L110.24,1031.02 L110.45,1029.78 L110.65,1028.53 L110.85,1027.29 L111.05,1026.04 L111.25,1024.79 L111.44,1023.54 L111.63,1022.28 L111.82,1021.03 L112.01,1019.77 L112.19,1018.52 L112.37,1017.26 L112.55,1016.00 L112.73,1014.73 L112.90,1013.47 L113.08,1012.21 L113.25,1010.94 L113.42,1009.68 L113.59,1008.41 L113.75,1007.14 L113.92,1005.87 L114.08,1004.60 L114.24,1003.32 L114.40,1002.05 L114.56,1000.78 L114.72,999.50 L114.88,998.22 L115.04,996.95 L115.19,995.67 L115.35,994.39 L115.50,993.11 L115.65,991.83 L115.80,990.54 L115.96,989.26 L116.11,987.98 L116.26,986.69 L116.41,985.41 L116.56,984.12 L116.71,982.84 L116.86,981.55 L117.00,980.26 L117.15,978.98 L117.30,977.69 L117.45,976.40 L117.60,975.11 L117.75,973.82 L117.90,972.53 L118.05,971.24 L118.20,969.95 L118.35,968.66 L118.51,967.37 L118.66,966.08 L118.81,964.79 L118.97,963.50 L119.12,962.21 L119.28,960.92 L119.44,959.62 L119.59,958.33 L119.75,957.04 L119.91,955.75 L120.08,954.46 L120.24,953.17 L120.40,951.88 L120.57,950.58 L120.74,949.29 L120.91,948.00 L121.08,946.71 L121.25,945.42 L121.43,944.13 L121.60,942.84 L121.78,941.55 L121.97,940.27 L122.15,938.98 L122.33,937.69 L122.52,936.40 L122.71,935.12 L122.91,933.83 L123.10,932.54 L123.30,931.26 L123.50,929.98 L123.70,928.69 L123.91,927.41 L124.12,926.13 L124.33,924.85 L124.54,923.57 L124.76,922.29 L124.98,921.01 L125.21,919.73 L125.44,918.45 L125.67,917.18 L125.90,915.90 L126.14,914.63 L126.38,913.36 L126.63,912.08 L126.88,910.81 L127.13,909.54 L127.39,908.28 L127.65,907.01 L127.91,905.74 L128.18,904.48 L128.45,903.21 L128.73,901.95 L129.01,900.69 L129.30,899.43 L129.59,898.18 L129.88,896.92 L130.18,895.66 L130.49,894.41 L130.80,893.16 L131.11,891.91 L131.43,890.66 L131.75,889.41 L132.08,888.17 L132.42,886.92 L132.75,885.68 L133.10,884.44 L133.45,883.20 L133.80,881.97 L134.16,880.73 L134.53,879.50 L134.90,878.27 L135.28,877.04 L135.66,875.82 L136.05,874.59 L136.44,873.37 L136.84,872.15 L137.25,870.93 L137.66,869.71 L138.08,868.50 L138.51,867.29 L138.94,866.08 L139.38,864.87 L139.82,863.66 L140.27,862.46 L140.73,861.26 L141.19,860.06 L141.66,858.87 L142.14,857.67 L142.62,856.48 L143.11,855.30 L143.60,854.11 L144.10,852.93 L144.61,851.75 L145.12,850.57 L145.64,849.40 L146.17,848.23 L146.70,847.06 L147.24,845.90 L147.79,844.74 L148.34,843.58 L148.89,842.43 L149.46,841.28 L150.03,840.13 L150.60,838.99 L151.19,837.85 L151.77,836.71 L152.37,835.58 L152.97,834.45 L153.57,833.33 L154.19,832.21 L154.81,831.09 L155.43,829.98 L156.06,828.87 L156.70,827.76 L157.34,826.66 L157.99,825.56 L158.65,824.47 L159.31,823.38 L159.98,822.30 L160.65,821.22 L161.33,820.15 L162.02,819.08 L162.71,818.01 L163.40,816.95 L164.11,815.89 L164.82,814.84 L165.53,813.80 L166.25,812.75 L166.98,811.72 L167.72,810.69 L168.45,809.66 L169.20,808.64 L169.95,807.62 L170.71,806.61 L171.47,805.61 L172.24,804.61 L173.02,803.61 L173.80,802.62 L174.58,801.64 L175.37,800.66 L176.17,799.69 L176.98,798.72 L177.79,797.76 L178.60,796.80 L179.42,795.86 L180.25,794.91 L181.08,793.97 L181.92,793.04 L182.77,792.12 L183.62,791.20 L184.48,790.29 L185.34,789.38 L186.21,788.48 L187.08,787.59 L187.96,786.70 L188.84,785.82 L189.73,784.94 L190.63,784.08 L191.53,783.22 L192.44,782.36 L193.35,781.51 L194.27,780.67 L195.20,779.84 L196.13,779.01 L197.06,778.19 L198.00,777.38 L198.95,776.58 L199.90,775.78 L200.86,774.99 L201.83,774.20 L202.80,773.43 L203.77,772.66 L204.75,771.90 L205.74,771.14 L206.73,770.39 L207.73,769.65 L208.73,768.92 L209.73,768.19 L210.75,767.47 L211.76,766.76 L212.78,766.05 L213.81,765.35 L214.84,764.66 L215.88,763.97 L216.92,763.29 L217.97,762.62 L219.02,761.95 L220.08,761.29 L221.14,760.63 L222.20,759.98 L223.27,759.34 L224.35,758.71 L225.42,758.08 L226.51,757.46 L227.60,756.84 L228.69,756.23 L229.78,755.62 L230.89,755.02 L231.99,754.43 L233.10,753.85 L234.21,753.26 L235.33,752.69 L236.45,752.12 L237.58,751.56 L238.71,751.00 L239.84,750.45 L240.98,749.90 L242.12,749.36 L243.26,748.83 L244.41,748.30 L245.56,747.77 L246.72,747.25 L247.87,746.74 L249.04,746.23 L250.20,745.73 L251.37,745.23 L252.55,744.74 L253.72,744.25 L254.90,743.77 L256.08,743.29 L257.27,742.82 L258.46,742.36 L259.65,741.89 L260.85,741.44 L262.04,740.98 L263.25,740.54 L264.45,740.10 L265.66,739.66 L266.87,739.22 L268.08,738.80 L269.29,738.37 L270.51,737.95 L271.73,737.54 L272.96,737.13 L274.18,736.72 L275.41,736.32 L276.64,735.93 L277.87,735.53 L279.11,735.15 L280.35,734.76 L281.59,734.38 L282.83,734.01 L284.07,733.63 L285.32,733.27 L286.57,732.90 L287.82,732.54 L289.07,732.19 L290.33,731.84 L291.58,731.49 L292.84,731.15 L294.10,730.81 L295.37,730.47 L296.63,730.14 L297.89,729.81 L299.16,729.48 L300.43,729.16 L301.70,728.84 L302.97,728.53 L304.25,728.22 L305.52,727.91 L306.80,727.60 L308.07,727.30 L309.35,727.00 L310.63,726.71 L311.91,726.42 L313.19,726.13 L314.48,725.84 L315.76,725.56 L317.05,725.28 L318.33,725.00 L319.62,724.73 L320.91,724.46 L322.19,724.19 L323.48,723.93 L324.77,723.66 L326.06,723.40 L327.36,723.15 L328.65,722.89 L329.94,722.64 L331.23,722.39 L332.53,722.14 L333.82,721.90 L335.11,721.66 L336.41,721.42 L337.70,721.18 L339.00,720.95 L340.29,720.71 L341.59,720.48 L342.88,720.25 L344.18,720.03 L345.47,719.80 L346.77,719.58 L348.06,719.36 L349.35,719.14 L350.65,718.93 L351.94,718.71 L353.24,718.50 L354.53,718.29 L355.82,718.08 L357.12,717.87 L358.41,717.67 L359.70,717.46 L360.99,717.26 L362.28,717.06 L363.57,716.86 L364.86,716.66 L366.15,716.46 L367.44,716.27 L368.72,716.07 L370.01,715.88 L371.30,715.69 L372.58,715.50 L373.87,715.31 L375.15,715.13 L376.43,714.94 L377.72,714.76 L379.00,714.58 L380.28,714.40 L381.56,714.22 L382.85,714.04 L384.13,713.86 L385.41,713.69 L386.69,713.51 L387.97,713.34 L389.24,713.17 L390.52,713.00 L391.80,712.83 L393.08,712.67 L394.36,712.50 L395.63,712.34 L396.91,712.17 L398.18,712.01 L399.46,711.85 L400.73,711.69 L402.01,711.53 L403.28,711.38 L404.56,711.22 L405.83,711.07 L407.10,710.92 L408.37,710.77 L409.65,710.62 L410.92,710.47 L412.19,710.32 L413.46,710.17 L414.73,710.03 L416.00,709.88 L417.27,709.74 L418.54,709.60 L419.81,709.46 L421.08,709.32 L422.35,709.18 L423.61,709.05 L424.88,708.91 L426.15,708.78 L427.42,708.64 L428.68,708.51 L429.95,708.38 L431.22,708.25 L432.48,708.12 L433.75,707.99 L435.01,707.87 L436.28,707.74 L437.54,707.62 L438.81,707.49 L440.07,707.37 L441.34,707.25 L442.60,707.13 L443.87,707.01 L445.13,706.89 L446.39,706.78 L447.66,706.66 L448.92,706.55 L450.18,706.43 L451.45,706.32 L452.71,706.21 L453.97,706.10 L455.23,705.99 L456.50,705.88 L457.76,705.77 L459.02,705.66 L460.28,705.56 L461.54,705.45 L462.81,705.35 L464.07,705.24 L465.33,705.14 L466.59,705.04 L467.85,704.94 L469.11,704.84 L470.37,704.74 L471.63,704.64 L472.90,704.55 L474.16,704.45 L475.42,704.36 L476.68,704.26 L477.94,704.17 L479.20,704.08 L480.46,703.98 L481.72,703.89 L482.98,703.80 L484.24,703.71 L485.50,703.63 L486.76,703.54 L488.02,703.45 L489.28,703.37 L490.54,703.28 L491.80,703.20 L493.06,703.11 L494.33,703.03 L495.59,702.95 L496.85,702.87 L498.11,702.78 L499.37,702.70 L500.63,702.63 L501.89,702.55 L503.15,702.47 L504.41,702.39 L505.67,702.31 L506.93,702.24 L508.20,702.16 L509.46,702.09 L510.72,702.02 L511.98,701.94 L513.24,701.87 L514.51,701.80 L515.77,701.73 L517.03,701.66 L518.29,701.59 L519.56,701.52 L520.82,701.45 L522.08,701.38 L523.34,701.31 L524.61,701.24 L525.87,701.18 L527.14,701.11 L528.40,701.05 L529.66,700.98 L530.93,700.92 L532.19,700.85 L533.46,700.79 L534.72,700.73 L535.99,700.67 L537.25,700.60 L538.52,700.54 L539.79,700.48 L541.05,700.42 L542.32,700.36 L543.59,700.30 L544.85,700.24 L546.12,700.19 L547.39,700.13 L548.66,700.07 L549.93,700.01 L551.19,699.96 L552.46,699.90 L553.73,699.85 L555.00,699.79 L556.27,699.74 L557.54,699.68 L558.81,699.63 L560.08,699.57 L561.36,699.52 L562.63,699.47 L563.90,699.41 L565.17,699.36 L566.45,699.31 L567.72,699.26 L568.99,699.21 L570.27,699.15 L571.54,699.10 L572.82,699.05 L574.09,699.00 L575.37,698.95 L576.65,698.90 L577.92,698.85 L579.20,698.80 L580.48,698.76 L581.76,698.71 L583.04,698.66 L584.31,698.61 L585.59,698.56 L586.88,698.51 L588.16,698.47 L589.44,698.42 L590.72,698.37 L592.00,698.33 L593.28,698.28 L594.57,698.23 L595.85,698.19 L597.14,698.14 L598.42,698.09 L599.71,698.05 L600.99,698.00 L602.28,697.96 L603.57,697.91 L604.85,697.86 L606.14,697.82 L607.43,697.77 L608.72,697.73 L610.01,697.68 L611.30,697.64 L612.59,697.59 L613.89,697.55 L615.18,697.50 L616.47,697.46 L617.77,697.41 L619.06,697.37 L620.36,697.32 L621.65,697.28 L622.95,697.24 L624.25,697.19 L625.54,697.15 L626.84,697.10 L628.14,697.06 L629.44,697.01 L630.74,696.97 L632.04,696.92 L633.35,696.88 L634.65,696.83 L635.95,696.79 L637.26,696.74 L638.56,696.70 L639.87,696.65 L641.18,696.61 L642.48,696.56 L643.79,696.52 L645.10,696.47 L646.41,696.42 L647.72,696.38 L649.03,696.33 L650.34,696.29 L651.66,696.24 L652.97,696.19 L654.29,696.15 L655.60,696.10" fill="none" stroke="#FFA500" stroke-width="2.6" stroke-linejoin="round"/>
<path d="M106.50,1081.82 L106.73,1080.58 L106.97,1079.33 L107.20,1078.09 L107.43,1076.84 L107.66,1075.59 L107.88,1074.33 L108.10,1073.08 L108.32,1071.83 L108.54,1070.57 L108.75,1069.31 L108.97,1068.05 L109.18,1066.79 L109.38,1065.53 L109.59,1064.26 L109.79,1063.00 L110.00,1061.73 L110.20,1060.46 L110.40,1059.20 L110.59,1057.93 L110.79,1056.65 L110.98,1055.38 L111.17,1054.11 L111.36,1052.83 L111.55,1051.55 L111.74,1050.28 L111.92,1049.00 L112.11,1047.72 L112.29,1046.43 L112.47,1045.15 L112.65,1043.87 L112.83,1042.58 L113.01,1041.30 L113.19,1040.01 L113.36,1038.72 L113.54,1037.43 L113.71,1036.14 L113.88,1034.85 L114.06,1033.56 L114.23,1032.26 L114.40,1030.97 L114.57,1029.67 L114.74,1028.38 L114.91,1027.08 L115.08,1025.78 L115.25,1024.48 L115.41,1023.18 L115.58,1021.88 L115.75,1020.58 L115.92,1019.28 L116.08,1017.98 L116.25,1016.67 L116.42,1015.37 L116.58,1014.06 L116.75,1012.76 L116.92,1011.45 L117.09,1010.14 L117.25,1008.83 L117.42,1007.53 L117.59,1006.22 L117.76,1004.91 L117.93,1003.59 L118.09,1002.28 L118.26,1000.97 L118.43,999.66 L118.61,998.35 L118.78,997.03 L118.95,995.72 L119.12,994.40 L119.30,993.09 L119.47,991.77 L119.65,990.46 L119.83,989.14 L120.00,987.82 L120.18,986.50 L120.36,985.19 L120.54,983.87 L120.73,982.55 L120.91,981.23 L121.10,979.91 L121.28,978.59 L121.47,977.27 L121.66,975.95 L121.85,974.63 L122.05,973.31 L122.24,971.99 L122.44,970.67 L122.64,969.35 L122.84,968.03 L123.04,966.71 L123.24,965.39 L123.45,964.07 L123.66,962.75 L123.87,961.43 L124.08,960.11 L124.30,958.79 L124.51,957.47 L124.73,956.15 L124.96,954.83 L125.18,953.51 L125.41,952.20 L125.64,950.88 L125.87,949.57 L126.10,948.25 L126.34,946.94 L126.58,945.62 L126.83,944.31 L127.07,943.00 L127.32,941.69 L127.57,940.38 L127.83,939.07 L128.09,937.76 L128.35,936.45 L128.61,935.15 L128.88,933.84 L129.15,932.54 L129.43,931.24 L129.71,929.94 L129.99,928.64 L130.28,927.34 L130.57,926.05 L130.86,924.75 L131.16,923.46 L131.46,922.17 L131.76,920.88 L132.07,919.59 L132.38,918.31 L132.70,917.02 L133.02,915.74 L133.34,914.46 L133.67,913.18 L134.00,911.91 L134.34,910.63 L134.68,909.36 L135.03,908.09 L135.38,906.82 L135.73,905.56 L136.09,904.29 L136.46,903.03 L136.83,901.78 L137.20,900.52 L137.58,899.27 L137.96,898.02 L138.35,896.77 L138.75,895.52 L139.14,894.28 L139.55,893.04 L139.96,891.80 L140.37,890.57 L140.79,889.34 L141.21,888.11 L141.64,886.88 L142.08,885.66 L142.52,884.44 L142.96,883.22 L143.41,882.01 L143.87,880.80 L144.33,879.59 L144.80,878.39 L145.28,877.19 L145.76,875.99 L146.24,874.80 L146.74,873.61 L147.23,872.42 L147.74,871.24 L148.25,870.06 L148.76,868.88 L149.29,867.71 L149.82,866.54 L150.35,865.38 L150.89,864.22 L151.44,863.06 L152.00,861.91 L152.56,860.76 L153.13,859.62 L153.70,858.47 L154.28,857.34 L154.87,856.21 L155.47,855.08 L156.07,853.95 L156.68,852.84 L157.29,851.72 L157.91,850.61 L158.54,849.50 L159.18,848.40 L159.83,847.31 L160.48,846.21 L161.14,845.13 L161.80,844.04 L162.48,842.97 L163.16,841.89 L163.85,840.82 L164.54,839.76 L165.24,838.70 L165.95,837.64 L166.67,836.59 L167.39,835.55 L168.12,834.51 L168.86,833.47 L169.61,832.44 L170.36,831.41 L171.11,830.39 L171.88,829.37 L172.65,828.36 L173.43,827.35 L174.21,826.35 L175.00,825.35 L175.80,824.36 L176.60,823.37 L177.41,822.38 L178.22,821.40 L179.05,820.42 L179.87,819.45 L180.71,818.49 L181.55,817.53 L182.39,816.57 L183.25,815.62 L184.10,814.67 L184.97,813.73 L185.84,812.79 L186.71,811.85 L187.60,810.92 L188.48,810.00 L189.38,809.08 L190.27,808.16 L191.18,807.25 L192.09,806.35 L193.00,805.45 L193.92,804.55 L194.85,803.66 L195.78,802.77 L196.71,801.89 L197.66,801.01 L198.60,800.13 L199.55,799.27 L200.51,798.40 L201.47,797.54 L202.44,796.69 L203.41,795.84 L204.39,794.99 L205.37,794.15 L206.35,793.31 L207.35,792.48 L208.34,791.65 L209.34,790.83 L210.35,790.01 L211.36,789.20 L212.37,788.39 L213.39,787.58 L214.41,786.78 L215.44,785.99 L216.47,785.20 L217.50,784.41 L218.54,783.63 L219.59,782.85 L220.63,782.08 L221.69,781.31 L222.74,780.55 L223.80,779.79 L224.87,779.04 L225.93,778.29 L227.00,777.54 L228.08,776.80 L229.16,776.07 L230.24,775.34 L231.33,774.61 L232.42,773.89 L233.51,773.17 L234.61,772.46 L235.71,771.75 L236.81,771.05 L237.92,770.35 L239.03,769.65 L240.14,768.96 L241.26,768.28 L242.38,767.60 L243.50,766.92 L244.63,766.25 L245.75,765.58 L246.89,764.92 L248.02,764.26 L249.16,763.61 L250.30,762.96 L251.44,762.32 L252.59,761.68 L253.73,761.04 L254.89,760.41 L256.04,759.79 L257.19,759.16 L258.35,758.55 L259.51,757.93 L260.68,757.33 L261.84,756.72 L263.01,756.13 L264.18,755.53 L265.35,754.94 L266.53,754.36 L267.70,753.78 L268.88,753.20 L270.06,752.63 L271.24,752.06 L272.43,751.50 L273.61,750.94 L274.80,750.39 L275.99,749.84 L277.18,749.30 L278.37,748.76 L279.57,748.22 L280.76,747.69 L281.96,747.16 L283.16,746.64 L284.36,746.13 L285.56,745.61 L286.77,745.10 L287.97,744.60 L289.18,744.10 L290.38,743.61 L291.59,743.12 L292.80,742.63 L294.02,742.15 L295.23,741.67 L296.44,741.20 L297.66,740.73 L298.88,740.26 L300.10,739.80 L301.32,739.34 L302.54,738.89 L303.76,738.44 L304.99,738.00 L306.21,737.56 L307.44,737.12 L308.67,736.69 L309.90,736.26 L311.13,735.84 L312.36,735.42 L313.59,735.00 L314.83,734.59 L316.06,734.18 L317.30,733.77 L318.54,733.37 L319.78,732.98 L321.02,732.58 L322.26,732.19 L323.50,731.81 L324.75,731.43 L326.00,731.05 L327.24,730.67 L328.49,730.30 L329.74,729.94 L330.99,729.57 L332.24,729.21 L333.49,728.86 L334.75,728.50 L336.00,728.16 L337.26,727.81 L338.52,727.47 L339.77,727.13 L341.03,726.79 L342.29,726.46 L343.55,726.14 L344.82,725.81 L346.08,725.49 L347.34,725.17 L348.61,724.86 L349.88,724.55 L351.14,724.24 L352.41,723.93 L353.68,723.63 L354.95,723.33 L356.22,723.04 L357.50,722.75 L358.77,722.46 L360.04,722.17 L361.32,721.89 L362.60,721.61 L363.87,721.34 L365.15,721.06 L366.43,720.79 L367.71,720.52 L368.99,720.26 L370.27,720.00 L371.55,719.74 L372.84,719.49 L374.12,719.23 L375.41,718.99 L376.69,718.74 L377.98,718.49 L379.26,718.25 L380.55,718.02 L381.84,717.78 L383.13,717.55 L384.42,717.32 L385.71,717.09 L387.00,716.87 L388.30,716.65 L389.59,716.43 L390.88,716.21 L392.18,716.00 L393.47,715.79 L394.77,715.58 L396.07,715.37 L397.37,715.17 L398.66,714.97 L399.96,714.77 L401.26,714.57 L402.56,714.38 L403.86,714.19 L405.16,714.00 L406.47,713.81 L407.77,713.63 L409.07,713.45 L410.38,713.27 L411.68,713.09 L412.99,712.91 L414.29,712.74 L415.60,712.57 L416.90,712.40 L418.21,712.24 L419.52,712.07 L420.83,711.91 L422.13,711.75 L423.44,711.59 L424.75,711.44 L426.06,711.28 L427.37,711.13 L428.69,710.98 L430.00,710.83 L431.31,710.69 L432.62,710.55 L433.93,710.40 L435.25,710.26 L436.56,710.13 L437.87,709.99 L439.19,709.85 L440.50,709.72 L441.82,709.59 L443.13,709.46 L444.45,709.34 L445.77,709.21 L447.08,709.09 L448.40,708.96 L449.72,708.84 L451.03,708.72 L452.35,708.61 L453.67,708.49 L454.99,708.38 L456.31,708.27 L457.62,708.15 L458.94,708.04 L460.26,707.94 L461.58,707.83 L462.90,707.73 L464.22,707.62 L465.54,707.52 L466.86,707.42 L468.18,707.32 L469.50,707.22 L470.82,707.12 L472.14,707.03 L473.47,706.93 L474.79,706.84 L476.11,706.75 L477.43,706.66 L478.75,706.57 L480.07,706.48 L481.39,706.39 L482.72,706.31 L484.04,706.22 L485.36,706.14 L486.68,706.05 L488.00,705.97 L489.33,705.89 L490.65,705.81 L491.97,705.73 L493.29,705.65 L494.61,705.58 L495.94,705.50 L497.26,705.43 L498.58,705.35 L499.90,705.28 L501.23,705.21 L502.55,705.13 L503.87,705.06 L505.19,704.99 L506.51,704.92 L507.83,704.85 L509.16,704.78 L510.48,704.72 L511.80,704.65 L513.12,704.58 L514.44,704.52 L515.76,704.45 L517.08,704.39 L518.40,704.32 L519.72,704.26 L521.04,704.20 L522.36,704.13 L523.68,704.07 L525.00,704.01 L526.32,703.95 L527.64,703.89 L528.96,703.83 L530.28,703.76 L531.60,703.70 L532.92,703.64 L534.23,703.59 L535.55,703.53 L536.87,703.47 L538.19,703.41 L539.50,703.35 L540.82,703.29 L542.14,703.23 L543.45,703.17 L544.77,703.12 L546.08,703.06 L547.40,703.00 L548.71,702.94 L550.03,702.88 L551.34,702.83 L552.65,702.77 L553.96,702.71 L555.28,702.65 L556.59,702.59 L557.90,702.53 L559.21,702.48 L560.52,702.42 L561.83,702.36 L563.14,702.30 L564.45,702.24 L565.76,702.18 L567.07,702.12 L568.38,702.06 L569.68,702.00 L570.99,701.94 L572.30,701.88 L573.60,701.82 L574.91,701.75 L576.21,701.69 L577.51,701.63 L578.82,701.57 L580.12,701.50 L581.42,701.44 L582.72,701.37 L584.02,701.31 L585.32,701.24 L586.62,701.17 L587.92,701.11 L589.22,701.04 L590.52,700.97 L591.82,700.90 L593.11,700.83 L594.41,700.76 L595.70,700.69 L597.00,700.62 L598.29,700.55 L599.58,700.47 L600.87,700.40 L602.16,700.32 L603.46,700.25 L604.74,700.17 L606.03,700.09 L607.32,700.01 L608.61,699.93 L609.90,699.85 L611.18,699.77 L612.47,699.69 L613.75,699.60 L615.03,699.52 L616.32,699.43 L617.60,699.34 L618.88,699.25 L620.16,699.16 L621.44,699.07 L622.71,698.98 L623.99,698.89 L625.27,698.79 L626.54,698.70 L627.82,698.60 L629.09,698.50 L630.36,698.40 L631.63,698.30 L632.90,698.20 L634.17,698.10 L635.44,697.99 L636.71,697.88 L637.98,697.78 L639.24,697.67 L640.51,697.55 L641.77,697.44 L643.03,697.33 L644.29,697.21 L645.55,697.09 L646.81,696.98 L648.07,696.86 L649.33,696.73 L650.58,696.61 L651.84,696.48 L653.09,696.36 L654.35,696.23 L655.60,696.10" fill="none" stroke="#0000FF" stroke-width="2.6" stroke-linejoin="round" stroke-dasharray="2.70 8.10"/>
<path d="M106.50,1066.61 L106.73,1065.39 L106.96,1064.17 L107.19,1062.95 L107.41,1061.72 L107.63,1060.50 L107.85,1059.27 L108.06,1058.04 L108.28,1056.81 L108.49,1055.58 L108.69,1054.34 L108.90,1053.11 L109.10,1051.87 L109.30,1050.63 L109.50,1049.39 L109.69,1048.15 L109.89,1046.90 L110.08,1045.66 L110.27,1044.41 L110.46,1043.16 L110.64,1041.91 L110.83,1040.66 L111.01,1039.41 L111.19,1038.16 L111.37,1036.90 L111.54,1035.65 L111.72,1034.39 L111.90,1033.13 L112.07,1031.87 L112.24,1030.61 L112.41,1029.35 L112.58,1028.09 L112.75,1026.83 L112.92,1025.56 L113.08,1024.30 L113.25,1023.03 L113.42,1021.76 L113.58,1020.50 L113.74,1019.23 L113.91,1017.96 L114.07,1016.69 L114.23,1015.41 L114.40,1014.14 L114.56,1012.87 L114.72,1011.60 L114.88,1010.32 L115.04,1009.05 L115.20,1007.77 L115.37,1006.50 L115.53,1005.22 L115.69,1003.94 L115.85,1002.67 L116.02,1001.39 L116.18,1000.11 L116.34,998.83 L116.51,997.55 L116.67,996.27 L116.84,994.99 L117.00,993.71 L117.17,992.43 L117.34,991.15 L117.51,989.87 L117.68,988.59 L117.85,987.31 L118.02,986.03 L118.19,984.75 L118.37,983.47 L118.54,982.19 L118.72,980.90 L118.90,979.62 L119.08,978.34 L119.26,977.06 L119.45,975.78 L119.63,974.50 L119.82,973.22 L120.01,971.94 L120.20,970.66 L120.40,969.38 L120.59,968.10 L120.79,966.82 L120.99,965.54 L121.20,964.26 L121.40,962.98 L121.61,961.71 L121.82,960.43 L122.03,959.15 L122.25,957.88 L122.47,956.60 L122.69,955.33 L122.91,954.05 L123.14,952.78 L123.37,951.51 L123.60,950.23 L123.84,948.96 L124.08,947.69 L124.32,946.42 L124.56,945.15 L124.81,943.88 L125.06,942.62 L125.32,941.35 L125.58,940.09 L125.84,938.82 L126.10,937.56 L126.37,936.30 L126.65,935.04 L126.92,933.78 L127.20,932.52 L127.48,931.27 L127.77,930.01 L128.06,928.76 L128.36,927.51 L128.65,926.26 L128.96,925.01 L129.26,923.76 L129.57,922.52 L129.89,921.28 L130.21,920.03 L130.53,918.79 L130.85,917.56 L131.19,916.32 L131.52,915.08 L131.86,913.85 L132.20,912.62 L132.55,911.39 L132.90,910.17 L133.26,908.94 L133.62,907.72 L133.99,906.50 L134.36,905.28 L134.74,904.07 L135.12,902.85 L135.50,901.64 L135.89,900.44 L136.29,899.23 L136.68,898.03 L137.09,896.83 L137.50,895.63 L137.91,894.43 L138.33,893.24 L138.76,892.05 L139.19,890.86 L139.62,889.68 L140.06,888.49 L140.51,887.31 L140.96,886.14 L141.42,884.96 L141.88,883.79 L142.34,882.63 L142.82,881.46 L143.30,880.30 L143.78,879.14 L144.27,877.99 L144.77,876.84 L145.27,875.69 L145.77,874.54 L146.29,873.40 L146.81,872.26 L147.33,871.13 L147.86,870.00 L148.40,868.87 L148.94,867.74 L149.49,866.62 L150.04,865.50 L150.61,864.39 L151.17,863.28 L151.75,862.18 L152.33,861.07 L152.91,859.97 L153.51,858.88 L154.11,857.79 L154.71,856.70 L155.33,855.62 L155.95,854.54 L156.57,853.47 L157.20,852.40 L157.84,851.33 L158.49,850.27 L159.14,849.21 L159.80,848.16 L160.47,847.11 L161.14,846.06 L161.83,845.02 L162.51,843.98 L163.21,842.95 L163.91,841.93 L164.62,840.90 L165.34,839.89 L166.06,838.87 L166.79,837.86 L167.53,836.86 L168.28,835.86 L169.03,834.87 L169.79,833.88 L170.56,832.89 L171.33,831.91 L172.11,830.93 L172.90,829.96 L173.69,829.00 L174.49,828.03 L175.30,827.08 L176.11,826.12 L176.93,825.18 L177.76,824.23 L178.59,823.30 L179.43,822.36 L180.28,821.43 L181.13,820.51 L181.99,819.59 L182.85,818.67 L183.72,817.76 L184.60,816.86 L185.48,815.96 L186.37,815.06 L187.26,814.17 L188.16,813.28 L189.06,812.40 L189.98,811.52 L190.89,810.65 L191.81,809.78 L192.74,808.92 L193.67,808.06 L194.61,807.20 L195.55,806.36 L196.50,805.51 L197.45,804.67 L198.41,803.84 L199.37,803.01 L200.34,802.18 L201.31,801.36 L202.29,800.54 L203.27,799.73 L204.26,798.92 L205.25,798.12 L206.25,797.33 L207.25,796.53 L208.26,795.75 L209.27,794.96 L210.28,794.18 L211.30,793.41 L212.32,792.64 L213.35,791.88 L214.38,791.12 L215.41,790.36 L216.45,789.62 L217.50,788.87 L218.54,788.13 L219.60,787.39 L220.65,786.66 L221.71,785.94 L222.77,785.22 L223.84,784.50 L224.90,783.79 L225.98,783.08 L227.05,782.38 L228.13,781.68 L229.22,780.99 L230.30,780.30 L231.39,779.62 L232.48,778.94 L233.58,778.27 L234.68,777.60 L235.78,776.94 L236.88,776.28 L237.99,775.62 L239.10,774.97 L240.21,774.33 L241.33,773.69 L242.44,773.06 L243.56,772.42 L244.69,771.80 L245.81,771.18 L246.94,770.56 L248.07,769.95 L249.20,769.35 L250.34,768.74 L251.48,768.15 L252.62,767.55 L253.76,766.97 L254.90,766.38 L256.05,765.80 L257.20,765.23 L258.35,764.66 L259.50,764.09 L260.66,763.53 L261.81,762.97 L262.97,762.42 L264.14,761.87 L265.30,761.33 L266.46,760.79 L267.63,760.25 L268.80,759.72 L269.97,759.19 L271.15,758.67 L272.32,758.15 L273.50,757.64 L274.68,757.13 L275.86,756.62 L277.04,756.12 L278.23,755.62 L279.41,755.12 L280.60,754.63 L281.79,754.14 L282.98,753.66 L284.18,753.18 L285.37,752.70 L286.57,752.23 L287.77,751.76 L288.96,751.30 L290.17,750.84 L291.37,750.38 L292.57,749.92 L293.78,749.47 L294.98,749.03 L296.19,748.58 L297.40,748.14 L298.61,747.71 L299.83,747.27 L301.04,746.84 L302.25,746.42 L303.47,745.99 L304.69,745.57 L305.91,745.16 L307.13,744.74 L308.35,744.33 L309.57,743.93 L310.79,743.52 L312.02,743.12 L313.24,742.73 L314.47,742.33 L315.69,741.94 L316.92,741.55 L318.15,741.17 L319.38,740.79 L320.61,740.41 L321.84,740.03 L323.08,739.66 L324.31,739.28 L325.54,738.92 L326.78,738.55 L328.02,738.19 L329.25,737.83 L330.49,737.47 L331.73,737.12 L332.97,736.77 L334.20,736.42 L335.44,736.07 L336.68,735.73 L337.93,735.39 L339.17,735.05 L340.41,734.71 L341.65,734.38 L342.89,734.05 L344.14,733.72 L345.38,733.39 L346.62,733.07 L347.87,732.74 L349.11,732.42 L350.36,732.11 L351.60,731.79 L352.85,731.48 L354.09,731.17 L355.34,730.86 L356.59,730.55 L357.83,730.24 L359.08,729.94 L360.32,729.64 L361.57,729.34 L362.82,729.05 L364.06,728.75 L365.31,728.46 L366.56,728.17 L367.80,727.88 L369.05,727.59 L370.30,727.31 L371.54,727.02 L372.79,726.74 L374.04,726.46 L375.29,726.18 L376.53,725.91 L377.78,725.63 L379.03,725.36 L380.28,725.09 L381.52,724.82 L382.77,724.56 L384.02,724.29 L385.27,724.03 L386.51,723.77 L387.76,723.51 L389.01,723.25 L390.26,723.00 L391.51,722.74 L392.75,722.49 L394.00,722.24 L395.25,721.99 L396.50,721.74 L397.75,721.50 L399.00,721.25 L400.25,721.01 L401.49,720.77 L402.74,720.53 L403.99,720.30 L405.24,720.06 L406.49,719.83 L407.74,719.60 L408.99,719.37 L410.24,719.14 L411.49,718.91 L412.74,718.69 L413.99,718.47 L415.24,718.24 L416.49,718.02 L417.74,717.81 L418.99,717.59 L420.24,717.37 L421.49,717.16 L422.74,716.95 L423.99,716.74 L425.24,716.53 L426.49,716.32 L427.74,716.12 L429.00,715.91 L430.25,715.71 L431.50,715.51 L432.75,715.31 L434.00,715.11 L435.25,714.91 L436.50,714.72 L437.76,714.52 L439.01,714.33 L440.26,714.14 L441.51,713.95 L442.77,713.76 L444.02,713.58 L445.27,713.39 L446.52,713.21 L447.78,713.02 L449.03,712.84 L450.28,712.66 L451.54,712.49 L452.79,712.31 L454.04,712.13 L455.30,711.96 L456.55,711.79 L457.80,711.62 L459.06,711.45 L460.31,711.28 L461.57,711.11 L462.82,710.94 L464.08,710.78 L465.33,710.62 L466.59,710.45 L467.84,710.29 L469.10,710.13 L470.35,709.97 L471.61,709.82 L472.86,709.66 L474.12,709.51 L475.37,709.35 L476.63,709.20 L477.89,709.05 L479.14,708.90 L480.40,708.75 L481.66,708.61 L482.91,708.46 L484.17,708.31 L485.43,708.17 L486.68,708.03 L487.94,707.89 L489.20,707.75 L490.46,707.61 L491.71,707.47 L492.97,707.33 L494.23,707.20 L495.49,707.06 L496.75,706.93 L498.01,706.80 L499.26,706.66 L500.52,706.53 L501.78,706.40 L503.04,706.28 L504.30,706.15 L505.56,706.02 L506.82,705.90 L508.08,705.77 L509.34,705.65 L510.60,705.53 L511.86,705.41 L513.12,705.29 L514.38,705.17 L515.64,705.05 L516.90,704.93 L518.17,704.82 L519.43,704.70 L520.69,704.59 L521.95,704.47 L523.21,704.36 L524.47,704.25 L525.74,704.14 L527.00,704.03 L528.26,703.92 L529.53,703.81 L530.79,703.70 L532.05,703.60 L533.32,703.49 L534.58,703.39 L535.84,703.28 L537.11,703.18 L538.37,703.08 L539.64,702.98 L540.90,702.87 L542.16,702.78 L543.43,702.68 L544.69,702.58 L545.96,702.48 L547.23,702.38 L548.49,702.29 L549.76,702.19 L551.02,702.10 L552.29,702.00 L553.56,701.91 L554.82,701.82 L556.09,701.73 L557.36,701.64 L558.62,701.55 L559.89,701.46 L561.16,701.37 L562.43,701.28 L563.70,701.19 L564.96,701.11 L566.23,701.02 L567.50,700.93 L568.77,700.85 L570.04,700.77 L571.31,700.68 L572.58,700.60 L573.85,700.52 L575.12,700.43 L576.39,700.35 L577.66,700.27 L578.93,700.19 L580.20,700.11 L581.47,700.03 L582.74,699.95 L584.01,699.88 L585.29,699.80 L586.56,699.72 L587.83,699.65 L589.10,699.57 L590.38,699.49 L591.65,699.42 L592.92,699.34 L594.20,699.27 L595.47,699.20 L596.74,699.12 L598.02,699.05 L599.29,698.98 L600.57,698.91 L601.84,698.84 L603.12,698.76 L604.39,698.69 L605.67,698.62 L606.94,698.55 L608.22,698.48 L609.49,698.41 L610.77,698.35 L612.05,698.28 L613.32,698.21 L614.60,698.14 L615.88,698.07 L617.16,698.01 L618.43,697.94 L619.71,697.87 L620.99,697.81 L622.27,697.74 L623.55,697.68 L624.83,697.61 L626.11,697.55 L627.39,697.48 L628.66,697.42 L629.94,697.35 L631.23,697.29 L632.51,697.22 L633.79,697.16 L635.07,697.10 L636.35,697.03 L637.63,696.97 L638.91,696.91 L640.19,696.84 L641.48,696.78 L642.76,696.72 L644.04,696.66 L645.33,696.59 L646.61,696.53 L647.89,696.47 L649.18,696.41 L650.46,696.35 L651.75,696.28 L653.03,696.22 L654.31,696.16 L655.60,696.10" fill="none" stroke="#00FF00" stroke-width="2.6" stroke-linejoin="round" stroke-dasharray="10.80 10.80"/>
<path d="M106.50,1112.58 L106.69,1111.26 L106.89,1109.94 L107.09,1108.62 L107.28,1107.31 L107.48,1105.99 L107.68,1104.68 L107.88,1103.37 L108.08,1102.05 L108.28,1100.74 L108.49,1099.43 L108.69,1098.12 L108.89,1096.82 L109.10,1095.51 L109.30,1094.20 L109.51,1092.90 L109.71,1091.59 L109.92,1090.29 L110.13,1088.98 L110.33,1087.68 L110.54,1086.38 L110.75,1085.08 L110.96,1083.77 L111.17,1082.47 L111.38,1081.17 L111.59,1079.87 L111.80,1078.58 L112.01,1077.28 L112.22,1075.98 L112.44,1074.68 L112.65,1073.38 L112.86,1072.09 L113.08,1070.79 L113.29,1069.49 L113.50,1068.20 L113.72,1066.90 L113.93,1065.60 L114.15,1064.31 L114.36,1063.01 L114.58,1061.72 L114.79,1060.42 L115.01,1059.13 L115.23,1057.83 L115.44,1056.54 L115.66,1055.24 L115.88,1053.94 L116.09,1052.65 L116.31,1051.35 L116.53,1050.06 L116.74,1048.76 L116.96,1047.46 L117.18,1046.17 L117.40,1044.87 L117.61,1043.57 L117.83,1042.28 L118.05,1040.98 L118.27,1039.68 L118.49,1038.38 L118.70,1037.08 L118.92,1035.78 L119.14,1034.48 L119.36,1033.18 L119.57,1031.88 L119.79,1030.58 L120.01,1029.27 L120.22,1027.97 L120.44,1026.67 L120.66,1025.36 L120.87,1024.06 L121.09,1022.75 L121.31,1021.44 L121.52,1020.14 L121.74,1018.83 L121.95,1017.52 L122.17,1016.21 L122.38,1014.90 L122.60,1013.58 L122.81,1012.27 L123.03,1010.96 L123.24,1009.64 L123.45,1008.32 L123.67,1007.01 L123.88,1005.69 L124.09,1004.37 L124.30,1003.04 L124.51,1001.72 L124.73,1000.40 L124.94,999.07 L125.15,997.75 L125.36,996.42 L125.56,995.09 L125.77,993.76 L125.98,992.43 L126.19,991.10 L126.40,989.76 L126.61,988.43 L126.82,987.09 L127.03,985.76 L127.24,984.42 L127.45,983.09 L127.66,981.75 L127.88,980.41 L128.09,979.07 L128.30,977.73 L128.52,976.40 L128.74,975.06 L128.96,973.72 L129.18,972.38 L129.40,971.04 L129.62,969.70 L129.85,968.36 L130.07,967.02 L130.30,965.69 L130.54,964.35 L130.77,963.01 L131.01,961.68 L131.24,960.34 L131.49,959.01 L131.73,957.67 L131.98,956.34 L132.23,955.01 L132.48,953.68 L132.73,952.34 L132.99,951.02 L133.26,949.69 L133.52,948.36 L133.79,947.04 L134.06,945.71 L134.34,944.39 L134.62,943.07 L134.91,941.75 L135.20,940.44 L135.49,939.12 L135.79,937.81 L136.09,936.50 L136.39,935.19 L136.71,933.88 L137.02,932.57 L137.34,931.27 L137.67,929.97 L138.00,928.67 L138.33,927.38 L138.67,926.09 L139.02,924.80 L139.37,923.51 L139.73,922.22 L140.09,920.94 L140.46,919.66 L140.84,918.39 L141.22,917.11 L141.61,915.84 L142.00,914.58 L142.40,913.32 L142.81,912.06 L143.22,910.80 L143.64,909.55 L144.06,908.30 L144.50,907.05 L144.94,905.81 L145.39,904.57 L145.84,903.34 L146.30,902.11 L146.77,900.88 L147.25,899.66 L147.73,898.44 L148.23,897.23 L148.73,896.02 L149.23,894.81 L149.75,893.61 L150.27,892.42 L150.81,891.22 L151.35,890.04 L151.89,888.85 L152.45,887.67 L153.01,886.50 L153.58,885.33 L154.16,884.16 L154.74,883.00 L155.34,881.85 L155.94,880.69 L156.54,879.54 L157.16,878.40 L157.78,877.26 L158.41,876.13 L159.05,874.99 L159.69,873.87 L160.34,872.75 L161.00,871.63 L161.66,870.51 L162.33,869.40 L163.01,868.30 L163.70,867.20 L164.39,866.10 L165.09,865.01 L165.79,863.92 L166.51,862.84 L167.23,861.76 L167.95,860.68 L168.68,859.61 L169.42,858.55 L170.17,857.48 L170.92,856.43 L171.68,855.37 L172.44,854.32 L173.21,853.28 L173.99,852.24 L174.77,851.20 L175.56,850.17 L176.36,849.14 L177.16,848.12 L177.97,847.10 L178.78,846.08 L179.60,845.07 L180.42,844.07 L181.25,843.06 L182.09,842.07 L182.93,841.07 L183.78,840.08 L184.64,839.10 L185.50,838.12 L186.36,837.14 L187.23,836.17 L188.11,835.20 L188.99,834.23 L189.88,833.27 L190.77,832.32 L191.67,831.37 L192.57,830.42 L193.48,829.48 L194.39,828.54 L195.31,827.60 L196.23,826.67 L197.16,825.75 L198.09,824.83 L199.03,823.91 L199.98,822.99 L200.92,822.09 L201.88,821.18 L202.83,820.28 L203.80,819.38 L204.76,818.49 L205.74,817.60 L206.71,816.72 L207.69,815.84 L208.68,814.96 L209.67,814.09 L210.66,813.22 L211.66,812.36 L212.66,811.50 L213.67,810.65 L214.68,809.80 L215.70,808.95 L216.72,808.11 L217.74,807.27 L218.77,806.44 L219.80,805.61 L220.84,804.78 L221.88,803.96 L222.92,803.14 L223.97,802.33 L225.02,801.52 L226.08,800.71 L227.14,799.91 L228.20,799.12 L229.26,798.32 L230.33,797.54 L231.41,796.75 L232.48,795.97 L233.56,795.20 L234.65,794.42 L235.73,793.66 L236.82,792.89 L237.92,792.13 L239.01,791.38 L240.11,790.63 L241.21,789.88 L242.32,789.14 L243.43,788.40 L244.54,787.66 L245.66,786.93 L246.77,786.21 L247.89,785.48 L249.02,784.77 L250.14,784.05 L251.27,783.34 L252.40,782.63 L253.54,781.93 L254.67,781.23 L255.81,780.54 L256.95,779.85 L258.10,779.17 L259.24,778.48 L260.39,777.81 L261.54,777.13 L262.70,776.46 L263.85,775.80 L265.01,775.14 L266.17,774.48 L267.33,773.83 L268.50,773.18 L269.66,772.53 L270.83,771.89 L272.00,771.25 L273.17,770.62 L274.34,769.99 L275.52,769.37 L276.70,768.75 L277.87,768.13 L279.05,767.52 L280.24,766.91 L281.42,766.30 L282.61,765.70 L283.79,765.11 L284.98,764.51 L286.17,763.93 L287.36,763.34 L288.55,762.76 L289.75,762.18 L290.95,761.61 L292.14,761.04 L293.34,760.47 L294.54,759.91 L295.75,759.36 L296.95,758.80 L298.15,758.25 L299.36,757.70 L300.57,757.16 L301.78,756.62 L302.99,756.09 L304.20,755.56 L305.42,755.03 L306.63,754.50 L307.85,753.98 L309.07,753.47 L310.29,752.95 L311.51,752.44 L312.73,751.94 L313.96,751.43 L315.18,750.94 L316.41,750.44 L317.64,749.95 L318.87,749.46 L320.10,748.98 L321.33,748.49 L322.56,748.02 L323.80,747.54 L325.03,747.07 L326.27,746.60 L327.51,746.14 L328.75,745.68 L329.99,745.22 L331.23,744.77 L332.48,744.32 L333.72,743.87 L334.97,743.43 L336.21,742.98 L337.46,742.55 L338.71,742.11 L339.96,741.68 L341.22,741.25 L342.47,740.83 L343.72,740.41 L344.98,739.99 L346.24,739.58 L347.49,739.16 L348.75,738.76 L350.01,738.35 L351.27,737.95 L352.54,737.55 L353.80,737.15 L355.07,736.76 L356.33,736.37 L357.60,735.98 L358.87,735.60 L360.14,735.22 L361.41,734.84 L362.68,734.47 L363.95,734.09 L365.22,733.72 L366.50,733.36 L367.77,733.00 L369.05,732.64 L370.32,732.28 L371.60,731.92 L372.88,731.57 L374.16,731.22 L375.44,730.88 L376.72,730.53 L378.01,730.19 L379.29,729.86 L380.58,729.52 L381.86,729.19 L383.15,728.86 L384.44,728.53 L385.72,728.21 L387.01,727.89 L388.30,727.57 L389.59,727.25 L390.89,726.94 L392.18,726.63 L393.47,726.32 L394.77,726.02 L396.06,725.71 L397.36,725.41 L398.65,725.11 L399.95,724.82 L401.25,724.53 L402.55,724.24 L403.85,723.95 L405.15,723.66 L406.45,723.38 L407.75,723.10 L409.05,722.82 L410.36,722.54 L411.66,722.27 L412.97,722.00 L414.27,721.73 L415.58,721.47 L416.88,721.20 L418.19,720.94 L419.50,720.68 L420.81,720.42 L422.12,720.17 L423.43,719.92 L424.74,719.67 L426.05,719.42 L427.36,719.17 L428.67,718.93 L429.99,718.69 L431.30,718.45 L432.62,718.21 L433.93,717.97 L435.25,717.74 L436.56,717.51 L437.88,717.28 L439.19,717.06 L440.51,716.83 L441.83,716.61 L443.15,716.39 L444.47,716.17 L445.79,715.95 L447.11,715.74 L448.43,715.52 L449.75,715.31 L451.07,715.10 L452.39,714.90 L453.71,714.69 L455.03,714.49 L456.36,714.29 L457.68,714.09 L459.00,713.89 L460.33,713.69 L461.65,713.50 L462.98,713.31 L464.30,713.12 L465.63,712.93 L466.95,712.74 L468.28,712.56 L469.61,712.37 L470.93,712.19 L472.26,712.01 L473.59,711.83 L474.91,711.65 L476.24,711.48 L477.57,711.30 L478.90,711.13 L480.23,710.96 L481.56,710.79 L482.89,710.62 L484.21,710.46 L485.54,710.29 L486.87,710.13 L488.20,709.97 L489.53,709.81 L490.86,709.65 L492.19,709.49 L493.52,709.34 L494.86,709.18 L496.19,709.03 L497.52,708.88 L498.85,708.73 L500.18,708.58 L501.51,708.43 L502.84,708.29 L504.17,708.14 L505.51,708.00 L506.84,707.86 L508.17,707.71 L509.50,707.57 L510.83,707.44 L512.17,707.30 L513.50,707.16 L514.83,707.03 L516.16,706.89 L517.49,706.76 L518.82,706.63 L520.16,706.50 L521.49,706.37 L522.82,706.24 L524.15,706.11 L525.48,705.99 L526.82,705.86 L528.15,705.74 L529.48,705.61 L530.81,705.49 L532.14,705.37 L533.47,705.25 L534.80,705.13 L536.14,705.01 L537.47,704.90 L538.80,704.78 L540.13,704.66 L541.46,704.55 L542.79,704.43 L544.12,704.32 L545.45,704.21 L546.78,704.10 L548.11,703.99 L549.44,703.88 L550.77,703.77 L552.09,703.66 L553.42,703.55 L554.75,703.44 L556.08,703.34 L557.41,703.23 L558.74,703.13 L560.06,703.02 L561.39,702.92 L562.72,702.82 L564.04,702.71 L565.37,702.61 L566.69,702.51 L568.02,702.41 L569.35,702.31 L570.67,702.21 L571.99,702.11 L573.32,702.01 L574.64,701.91 L575.96,701.81 L577.29,701.72 L578.61,701.62 L579.93,701.52 L581.25,701.43 L582.57,701.33 L583.90,701.24 L585.22,701.14 L586.54,701.05 L587.86,700.95 L589.17,700.86 L590.49,700.76 L591.81,700.67 L593.13,700.58 L594.44,700.48 L595.76,700.39 L597.08,700.30 L598.39,700.21 L599.71,700.11 L601.02,700.02 L602.33,699.93 L603.65,699.84 L604.96,699.75 L606.27,699.65 L607.58,699.56 L608.89,699.47 L610.20,699.38 L611.51,699.29 L612.82,699.20 L614.13,699.11 L615.44,699.02 L616.74,698.92 L618.05,698.83 L619.36,698.74 L620.66,698.65 L621.96,698.56 L623.27,698.47 L624.57,698.37 L625.87,698.28 L627.17,698.19 L628.47,698.10 L629.77,698.01 L631.07,697.91 L632.37,697.82 L633.67,697.73 L634.97,697.63 L636.26,697.54 L637.56,697.45 L638.85,697.35 L640.14,697.26 L641.44,697.16 L642.73,697.07 L644.02,696.97 L645.31,696.88 L646.60,696.78 L647.89,696.69 L649.17,696.59 L650.46,696.49 L651.75,696.39 L653.03,696.30 L654.32,696.20 L655.60,696.10" fill="none" stroke="#FF0000" stroke-width="2.6" stroke-linejoin="round" stroke-dasharray="2.70 8.10 10.80 8.10"/>
<path d="M106.50,1184.37 L106.64,1182.94 L106.78,1181.50 L106.93,1180.06 L107.07,1178.63 L107.22,1177.20 L107.38,1175.77 L107.53,1174.34 L107.69,1172.91 L107.85,1171.48 L108.01,1170.06 L108.18,1168.63 L108.35,1167.21 L108.52,1165.79 L108.69,1164.37 L108.87,1162.95 L109.05,1161.53 L109.23,1160.11 L109.41,1158.69 L109.59,1157.28 L109.78,1155.86 L109.97,1154.45 L110.16,1153.04 L110.35,1151.63 L110.55,1150.22 L110.75,1148.81 L110.94,1147.40 L111.15,1145.99 L111.35,1144.59 L111.55,1143.18 L111.76,1141.77 L111.97,1140.37 L112.18,1138.97 L112.39,1137.56 L112.60,1136.16 L112.81,1134.76 L113.03,1133.36 L113.25,1131.96 L113.47,1130.56 L113.69,1129.16 L113.91,1127.76 L114.13,1126.36 L114.36,1124.97 L114.58,1123.57 L114.81,1122.17 L115.04,1120.78 L115.26,1119.38 L115.49,1117.99 L115.73,1116.59 L115.96,1115.20 L116.19,1113.80 L116.42,1112.41 L116.66,1111.01 L116.89,1109.62 L117.13,1108.23 L117.37,1106.83 L117.61,1105.44 L117.84,1104.05 L118.08,1102.66 L118.32,1101.26 L118.56,1099.87 L118.80,1098.48 L119.05,1097.09 L119.29,1095.69 L119.53,1094.30 L119.77,1092.91 L120.01,1091.52 L120.26,1090.12 L120.50,1088.73 L120.74,1087.34 L120.99,1085.94 L121.23,1084.55 L121.47,1083.16 L121.72,1081.76 L121.96,1080.37 L122.21,1078.97 L122.45,1077.58 L122.69,1076.18 L122.94,1074.79 L123.18,1073.39 L123.42,1071.99 L123.66,1070.60 L123.91,1069.20 L124.15,1067.80 L124.39,1066.40 L124.63,1065.00 L124.87,1063.60 L125.11,1062.20 L125.35,1060.80 L125.59,1059.40 L125.83,1058.00 L126.07,1056.59 L126.30,1055.19 L126.54,1053.79 L126.77,1052.38 L127.01,1050.97 L127.24,1049.57 L127.47,1048.16 L127.70,1046.75 L127.93,1045.34 L128.16,1043.93 L128.39,1042.52 L128.62,1041.11 L128.84,1039.69 L129.07,1038.28 L129.29,1036.86 L129.52,1035.45 L129.74,1034.03 L129.96,1032.61 L130.18,1031.19 L130.40,1029.77 L130.62,1028.35 L130.84,1026.93 L131.06,1025.51 L131.28,1024.09 L131.50,1022.67 L131.72,1021.25 L131.94,1019.82 L132.16,1018.40 L132.38,1016.98 L132.60,1015.55 L132.82,1014.13 L133.05,1012.71 L133.27,1011.28 L133.49,1009.86 L133.72,1008.43 L133.95,1007.01 L134.17,1005.58 L134.40,1004.16 L134.63,1002.74 L134.87,1001.31 L135.10,999.89 L135.34,998.47 L135.57,997.05 L135.81,995.62 L136.05,994.20 L136.30,992.78 L136.54,991.36 L136.79,989.94 L137.04,988.52 L137.30,987.10 L137.55,985.68 L137.81,984.27 L138.07,982.85 L138.34,981.43 L138.60,980.02 L138.87,978.61 L139.15,977.19 L139.43,975.78 L139.71,974.37 L139.99,972.96 L140.28,971.55 L140.57,970.15 L140.87,968.74 L141.17,967.34 L141.47,965.93 L141.78,964.53 L142.09,963.13 L142.41,961.73 L142.73,960.33 L143.05,958.94 L143.38,957.54 L143.72,956.15 L144.06,954.76 L144.40,953.37 L144.75,951.98 L145.11,950.60 L145.47,949.22 L145.83,947.83 L146.20,946.46 L146.58,945.08 L146.96,943.70 L147.35,942.33 L147.74,940.96 L148.14,939.59 L148.55,938.22 L148.96,936.86 L149.38,935.50 L149.81,934.14 L150.24,932.78 L150.68,931.43 L151.12,930.07 L151.57,928.72 L152.03,927.38 L152.49,926.03 L152.97,924.69 L153.44,923.35 L153.93,922.02 L154.42,920.68 L154.92,919.35 L155.42,918.02 L155.93,916.70 L156.45,915.38 L156.97,914.06 L157.50,912.74 L158.03,911.43 L158.58,910.12 L159.12,908.81 L159.68,907.50 L160.24,906.20 L160.81,904.90 L161.38,903.61 L161.96,902.31 L162.55,901.02 L163.14,899.74 L163.74,898.45 L164.35,897.17 L164.96,895.90 L165.57,894.62 L166.20,893.35 L166.83,892.08 L167.46,890.82 L168.10,889.56 L168.75,888.30 L169.41,887.05 L170.07,885.80 L170.73,884.55 L171.40,883.31 L172.08,882.06 L172.77,880.83 L173.46,879.59 L174.15,878.37 L174.85,877.14 L175.56,875.92 L176.28,874.70 L177.00,873.48 L177.72,872.27 L178.45,871.06 L179.19,869.86 L179.93,868.66 L180.68,867.46 L181.43,866.27 L182.19,865.08 L182.96,863.90 L183.73,862.72 L184.51,861.54 L185.29,860.36 L186.08,859.20 L186.87,858.03 L187.67,856.87 L188.48,855.71 L189.29,854.56 L190.11,853.41 L190.93,852.27 L191.75,851.12 L192.59,849.99 L193.43,848.86 L194.27,847.73 L195.12,846.60 L195.97,845.48 L196.83,844.37 L197.70,843.26 L198.57,842.15 L199.45,841.05 L200.33,839.95 L201.22,838.86 L202.11,837.77 L203.01,836.69 L203.91,835.61 L204.82,834.53 L205.73,833.46 L206.65,832.39 L207.57,831.33 L208.50,830.28 L209.44,829.22 L210.38,828.18 L211.32,827.13 L212.27,826.10 L213.22,825.06 L214.18,824.03 L215.15,823.01 L216.12,821.99 L217.09,820.98 L218.07,819.97 L219.06,818.96 L220.05,817.97 L221.04,816.97 L222.04,815.98 L223.05,815.00 L224.06,814.02 L225.07,813.05 L226.09,812.08 L227.11,811.11 L228.14,810.15 L229.18,809.20 L230.22,808.25 L231.26,807.31 L232.31,806.37 L233.36,805.44 L234.42,804.51 L235.48,803.59 L236.55,802.67 L237.62,801.76 L238.70,800.86 L239.78,799.96 L240.86,799.06 L241.95,798.17 L243.05,797.29 L244.15,796.41 L245.25,795.54 L246.36,794.67 L247.47,793.81 L248.59,792.96 L249.71,792.11 L250.84,791.26 L251.97,790.42 L253.10,789.59 L254.24,788.76 L255.39,787.94 L256.54,787.13 L257.69,786.32 L258.84,785.51 L260.01,784.72 L261.17,783.92 L262.34,783.14 L263.52,782.36 L264.69,781.58 L265.88,780.82 L267.06,780.06 L268.25,779.30 L269.45,778.55 L270.65,777.81 L271.85,777.07 L273.06,776.34 L274.27,775.61 L275.49,774.89 L276.71,774.18 L277.93,773.48 L279.16,772.78 L280.39,772.08 L281.63,771.40 L282.87,770.72 L284.11,770.04 L285.36,769.37 L286.61,768.71 L287.87,768.05 L289.12,767.40 L290.39,766.76 L291.65,766.12 L292.92,765.49 L294.20,764.86 L295.47,764.24 L296.75,763.62 L298.04,763.02 L299.32,762.41 L300.61,761.81 L301.91,761.22 L303.20,760.63 L304.50,760.05 L305.81,759.47 L307.11,758.90 L308.42,758.34 L309.74,757.78 L311.05,757.22 L312.37,756.67 L313.69,756.13 L315.02,755.59 L316.34,755.05 L317.67,754.52 L319.00,753.99 L320.34,753.47 L321.68,752.96 L323.02,752.45 L324.36,751.94 L325.71,751.44 L327.05,750.94 L328.40,750.45 L329.76,749.96 L331.11,749.48 L332.47,749.00 L333.83,748.53 L335.19,748.06 L336.56,747.59 L337.92,747.13 L339.29,746.67 L340.66,746.22 L342.03,745.77 L343.41,745.33 L344.78,744.88 L346.16,744.45 L347.54,744.01 L348.92,743.58 L350.31,743.16 L351.69,742.74 L353.08,742.32 L354.47,741.90 L355.86,741.49 L357.25,741.09 L358.64,740.68 L360.04,740.28 L361.43,739.89 L362.83,739.49 L364.23,739.10 L365.63,738.72 L367.03,738.33 L368.43,737.95 L369.84,737.58 L371.24,737.20 L372.65,736.83 L374.05,736.46 L375.46,736.10 L376.87,735.73 L378.28,735.38 L379.69,735.02 L381.10,734.66 L382.51,734.31 L383.92,733.97 L385.34,733.62 L386.75,733.28 L388.17,732.94 L389.58,732.60 L391.00,732.26 L392.41,731.93 L393.83,731.60 L395.25,731.27 L396.66,730.94 L398.08,730.62 L399.50,730.29 L400.92,729.97 L402.33,729.66 L403.75,729.34 L405.17,729.03 L406.59,728.71 L408.01,728.40 L409.43,728.09 L410.85,727.79 L412.26,727.48 L413.68,727.18 L415.10,726.88 L416.52,726.58 L417.93,726.28 L419.35,725.98 L420.77,725.68 L422.18,725.39 L423.60,725.10 L425.01,724.80 L426.43,724.51 L427.84,724.22 L429.26,723.93 L430.67,723.65 L432.08,723.36 L433.49,723.08 L434.90,722.79 L436.31,722.51 L437.72,722.23 L439.13,721.94 L440.53,721.66 L441.94,721.38 L443.34,721.10 L444.75,720.82 L446.15,720.54 L447.55,720.27 L448.95,719.99 L450.35,719.71 L451.75,719.44 L453.15,719.16 L454.55,718.89 L455.94,718.62 L457.34,718.35 L458.73,718.08 L460.13,717.81 L461.52,717.54 L462.91,717.27 L464.30,717.00 L465.69,716.74 L467.09,716.47 L468.48,716.21 L469.86,715.94 L471.25,715.68 L472.64,715.42 L474.03,715.16 L475.41,714.90 L476.80,714.64 L478.19,714.38 L479.57,714.13 L480.96,713.87 L482.34,713.62 L483.73,713.37 L485.11,713.12 L486.49,712.87 L487.87,712.62 L489.26,712.37 L490.64,712.12 L492.02,711.88 L493.40,711.64 L494.78,711.39 L496.17,711.15 L497.55,710.91 L498.93,710.67 L500.31,710.44 L501.69,710.20 L503.07,709.97 L504.45,709.73 L505.83,709.50 L507.21,709.27 L508.59,709.04 L509.97,708.82 L511.35,708.59 L512.73,708.36 L514.10,708.14 L515.48,707.92 L516.86,707.70 L518.24,707.48 L519.62,707.27 L521.00,707.05 L522.38,706.84 L523.76,706.62 L525.14,706.41 L526.53,706.21 L527.91,706.00 L529.29,705.79 L530.67,705.59 L532.05,705.39 L533.43,705.19 L534.81,704.99 L536.20,704.79 L537.58,704.60 L538.96,704.40 L540.35,704.21 L541.73,704.02 L543.12,703.84 L544.50,703.65 L545.89,703.47 L547.27,703.28 L548.66,703.10 L550.05,702.92 L551.43,702.75 L552.82,702.57 L554.21,702.40 L555.60,702.23 L556.99,702.06 L558.38,701.90 L559.77,701.73 L561.16,701.57 L562.56,701.41 L563.95,701.25 L565.35,701.09 L566.74,700.94 L568.14,700.79 L569.53,700.64 L570.93,700.49 L572.33,700.34 L573.73,700.20 L575.13,700.06 L576.53,699.92 L577.93,699.78 L579.34,699.65 L580.74,699.51 L582.14,699.38 L583.55,699.26 L584.96,699.13 L586.37,699.01 L587.77,698.88 L589.19,698.77 L590.60,698.65 L592.01,698.54 L593.42,698.42 L594.84,698.31 L596.25,698.21 L597.67,698.10 L599.09,698.00 L600.51,697.90 L601.93,697.81 L603.35,697.71 L604.78,697.62 L606.20,697.53 L607.63,697.44 L609.06,697.36 L610.49,697.28 L611.92,697.20 L613.35,697.12 L614.78,697.05 L616.22,696.98 L617.65,696.91 L619.09,696.84 L620.53,696.78 L621.97,696.72 L623.42,696.66 L624.86,696.60 L626.31,696.55 L627.75,696.50 L629.20,696.45 L630.65,696.41 L632.11,696.37 L633.56,696.33 L635.02,696.29 L636.48,696.26 L637.94,696.23 L639.40,696.20 L640.86,696.18 L642.33,696.16 L643.79,696.14 L645.26,696.12 L646.73,696.11 L648.21,696.10 L649.68,696.10 L651.16,696.09 L652.64,696.09 L654.12,696.09 L655.60,696.10" fill="none" stroke="#000000" stroke-width="2.6" stroke-linejoin="round" stroke-dasharray="5.40 5.40 16.20 5.40"/>
<line x1="74.2" y1="1089.70" x2="79" y2="1089.70" stroke="#333" stroke-width="1.6"/>
<text x="69.8" y="1096.00" text-anchor="end" class="ax">0.25</text>
<line x1="74.2" y1="958.50" x2="79" y2="958.50" stroke="#333" stroke-width="1.6"/>
<text x="69.8" y="964.80" text-anchor="end" class="ax">0.50</text>
<line x1="74.2" y1="827.30" x2="79" y2="827.30" stroke="#333" stroke-width="1.6"/>
<text x="69.8" y="833.60" text-anchor="end" class="ax">0.75</text>
<line x1="74.2" y1="696.10" x2="79" y2="696.10" stroke="#333" stroke-width="1.6"/>
<text x="69.8" y="702.40" text-anchor="end" class="ax">1.00</text>
<line x1="106.50" y1="1209.0" x2="106.50" y2="1213.80" stroke="#333" stroke-width="1.6"/>
<text x="106.50" y="1231.00" text-anchor="middle" class="ax">0.00</text>
<line x1="243.78" y1="1209.0" x2="243.78" y2="1213.80" stroke="#333" stroke-width="1.6"/>
<text x="243.78" y="1231.00" text-anchor="middle" class="ax">0.25</text>
<line x1="381.05" y1="1209.0" x2="381.05" y2="1213.80" stroke="#333" stroke-width="1.6"/>
<text x="381.05" y="1231.00" text-anchor="middle" class="ax">0.50</text>
<line x1="518.33" y1="1209.0" x2="518.33" y2="1213.80" stroke="#333" stroke-width="1.6"/>
<text x="518.33" y="1231.00" text-anchor="middle" class="ax">0.75</text>
<line x1="655.60" y1="1209.0" x2="655.60" y2="1213.80" stroke="#333" stroke-width="1.6"/>
<text x="655.60" y="1231.00" text-anchor="middle" class="ax">1.00</text>
<text x="381" y="1264.80" text-anchor="middle" class="at">1 - Specificity</text>
<text transform="translate(15.4 940.50) rotate(-90)" text-anchor="middle" class="at">Sensitivity</text>
<text x="29.0" y="662.50" class="tag">(B)</text>
<rect x="297.4" y="950.40" width="348.2" height="249" fill="#fff"/>
<rect x="307.2" y="970.00" width="30.8" height="220.2" fill="#F2F2F2"/>
<path d="M310,992.00 L335.5,992.00" fill="none" stroke="#FFA500" stroke-width="2.6" stroke-linejoin="round"/>
<text x="347.5" y="988.10" class="lg">XGBoost (all)</text>
<text x="347.5" y="1010.80" class="lg">(AUC 0.92, 95% CI 0.89–0.95)</text>
<path d="M310,1036.04 L335.5,1036.04" fill="none" stroke="#0000FF" stroke-width="2.6" stroke-linejoin="round" stroke-dasharray="2.70 8.10"/>
<text x="347.5" y="1032.14" class="lg">Log reg (all)</text>
<text x="347.5" y="1054.84" class="lg">(AUC 0.90, 95% CI 0.87–0.94)</text>
<path d="M310,1080.08 L335.5,1080.08" fill="none" stroke="#00FF00" stroke-width="2.6" stroke-linejoin="round" stroke-dasharray="10.80 10.80"/>
<text x="347.5" y="1076.18" class="lg">XGBoost (top 5)</text>
<text x="347.5" y="1098.88" class="lg">(AUC 0.90, 95% CI 0.87–0.93)</text>
<path d="M310,1124.12 L335.5,1124.12" fill="none" stroke="#FF0000" stroke-width="2.6" stroke-linejoin="round" stroke-dasharray="2.70 8.10 10.80 8.10"/>
<text x="347.5" y="1120.22" class="lg">Log reg (top 5)</text>
<text x="347.5" y="1142.92" class="lg">(AUC 0.88, 95% CI 0.84–0.92)</text>
<path d="M310,1168.16 L335.5,1168.16" fill="none" stroke="#000000" stroke-width="2.6" stroke-linejoin="round" stroke-dasharray="5.40 5.40 16.20 5.40"/>
<text x="347.5" y="1164.26" class="lg">Log reg (Creatinine)</text>
<text x="347.5" y="1186.96" class="lg">(AUC 0.86, 95% CI 0.81–0.90)</text>
</svg>
</body></html>
